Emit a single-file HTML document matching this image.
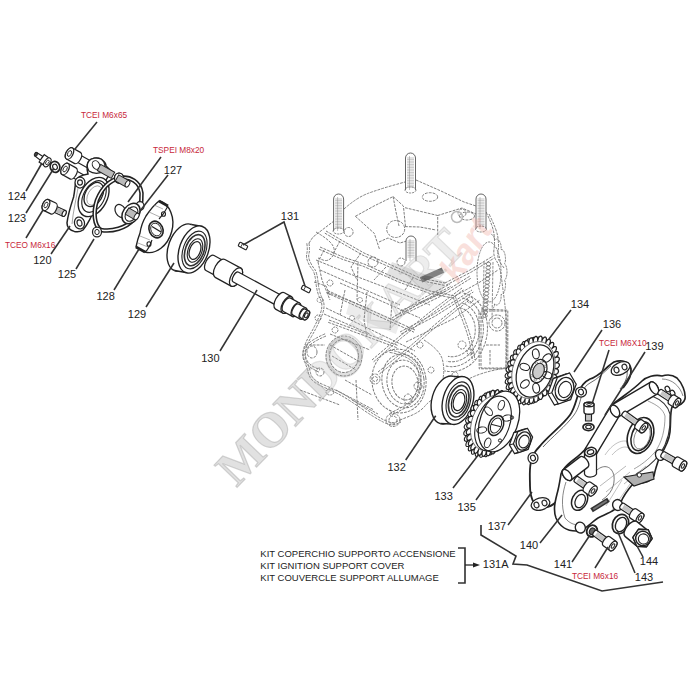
<!DOCTYPE html><html><head><meta charset="utf-8"><style>
html,body{margin:0;padding:0;background:#fff;width:700px;height:700px;overflow:hidden}
svg{display:block}
text{font-family:"Liberation Sans",sans-serif}
</style></head><body>
<svg width="700" height="700" viewBox="0 0 700 700">
<ellipse cx="344" cy="357" rx="16" ry="18" fill="none" stroke="#e0e0e0" stroke-width="5"/>
<path d="M350,300 L400,322 L396,334 L346,314 Z" fill="#ececec" stroke="none"/>
<path d="M392,262 L446,282 L440,296 L386,276 Z" fill="#e2e2e2" stroke="none"/>
<path d="M309,243 L313,237 L326,227 L334,221" fill="none" stroke="#777" stroke-width="0.95" stroke-dasharray="2.8 1.1" stroke-linejoin="round"/>
<path d="M344,209 Q357,197.4 368.5,193.2 Q380,189 392.5,185.5 L405,182" fill="none" stroke="#777" stroke-width="0.95" stroke-dasharray="2.8 1.1" stroke-linejoin="round"/>
<path d="M416,180 L441,191 L464,202 L476,206" fill="none" stroke="#777" stroke-width="0.95" stroke-dasharray="2.8 1.1" stroke-linejoin="round"/>
<path d="M486,212 Q493,226 494.0,234.0 Q495,242 494.0,249.0 Q493,256 496.5,261.0 Q500,266 501.5,278.0 Q503,290 504.5,301.5 Q506,313 506.5,326.5 Q507,340 506.5,354.0 L506,368" fill="none" stroke="#777" stroke-width="0.95" stroke-dasharray="2.8 1.1" stroke-linejoin="round"/>
<path d="M489,214 Q497,230 498.0,238.0 Q499,246 498.0,252.0 Q497,258 500.5,263.0 L504,268" fill="none" stroke="#777" stroke-width="0.95" stroke-dasharray="2.8 1.1" stroke-linejoin="round"/>
<path d="M506,368 Q480,372 465.0,381.0 Q450,390 440.0,395.0 Q430,400 425.0,406.0 Q420,412 410.0,416.0 L400,420" fill="none" stroke="#777" stroke-width="0.95" stroke-dasharray="2.8 1.1" stroke-linejoin="round"/>
<path d="M326,231 L343,241 L364,253 L400,269 L420,278 L445,283" fill="none" stroke="#777" stroke-width="0.95" stroke-dasharray="2.8 1.1" stroke-linejoin="round"/>
<path d="M324.8,233.1 L341.8,243.1 L362.9,255.2 L399.0,271.2 L419.3,280.3 L444.5,285.4" fill="none" stroke="#777" stroke-width="0.95" stroke-dasharray="2.8 1.1" stroke-linejoin="round"/>
<path d="M320,247 L343,257 L364,264 L400,280 L430,291 L455,296" fill="none" stroke="#777" stroke-width="0.95" stroke-dasharray="2.8 1.1" stroke-linejoin="round"/>
<path d="M319.0,249.2 L342.1,259.2 L363.1,266.2 L399.1,282.2 L429.3,293.3 L454.5,298.4" fill="none" stroke="#777" stroke-width="0.95" stroke-dasharray="2.8 1.1" stroke-linejoin="round"/>
<path d="M316,260 L350,274 L400,293 L430,305" fill="none" stroke="#777" stroke-width="0.95" stroke-dasharray="2.8 1.1" stroke-linejoin="round"/>
<path d="M445,283 L470,270 L493,256" fill="none" stroke="#777" stroke-width="0.95" stroke-dasharray="2.8 1.1" stroke-linejoin="round"/>
<path d="M446.1,285.1 L471.2,272.1 L494.2,258.1" fill="none" stroke="#777" stroke-width="0.95" stroke-dasharray="2.8 1.1" stroke-linejoin="round"/>
<path d="M455,296 L480,282 L498,270" fill="none" stroke="#777" stroke-width="0.95" stroke-dasharray="2.8 1.1" stroke-linejoin="round"/>
<path d="M355.4,216.3 L374,206 L393.1,196.6 L403.4,206 L405.5,226.6" fill="none" stroke="#777" stroke-width="0.95" stroke-dasharray="2.8 1.1" stroke-linejoin="round"/>
<path d="M393.1,196.6 L396,212 L399,226" fill="none" stroke="#777" stroke-width="0.95" stroke-dasharray="2.8 1.1" stroke-linejoin="round"/>
<path d="M405,207.7 L437.7,215.5 L437.7,235" fill="none" stroke="#777" stroke-width="0.95" stroke-dasharray="2.8 1.1" stroke-linejoin="round"/>
<path d="M355.4,216.3 L374.3,233.4 L379.4,249" fill="none" stroke="#777" stroke-width="0.95" stroke-dasharray="2.8 1.1" stroke-linejoin="round"/>
<path d="M405,226.6 L420,227 L436,230" fill="none" stroke="#777" stroke-width="0.95" stroke-dasharray="2.8 1.1" stroke-linejoin="round"/>
<path d="M379,242 L388,238 L400,243 L410,240" fill="none" stroke="#777" stroke-width="0.95" stroke-dasharray="2.8 1.1" stroke-linejoin="round"/>
<path d="M437.7,215.5 L462,208 L476,214" fill="none" stroke="#777" stroke-width="0.95" stroke-dasharray="2.8 1.1" stroke-linejoin="round"/>
<ellipse cx="395.7" cy="229" rx="9" ry="8.5" transform="rotate(0 395.7 229)" fill="none" stroke="#777" stroke-width="0.95" stroke-dasharray="2.8 1.1"/>
<ellipse cx="430" cy="197" rx="7.7" ry="4.3" transform="rotate(0 430 197)" fill="none" stroke="#777" stroke-width="0.95" stroke-dasharray="2.8 1.1"/>
<ellipse cx="467" cy="216" rx="7.5" ry="4" transform="rotate(0 467 216)" fill="none" stroke="#777" stroke-width="0.95" stroke-dasharray="2.8 1.1"/>
<ellipse cx="462" cy="213" rx="4" ry="4" transform="rotate(0 462 213)" fill="none" stroke="#777" stroke-width="0.95" stroke-dasharray="2.8 1.1"/>
<ellipse cx="348.6" cy="232" rx="4.5" ry="4.5" transform="rotate(0 348.6 232)" fill="none" stroke="#777" stroke-width="0.95" stroke-dasharray="2.8 1.1"/>
<ellipse cx="401" cy="262" rx="4" ry="4" transform="rotate(0 401 262)" fill="none" stroke="#777" stroke-width="0.95" stroke-dasharray="2.8 1.1"/>
<ellipse cx="373" cy="262" rx="5" ry="5" transform="rotate(0 373 262)" fill="none" stroke="#777" stroke-width="0.95" stroke-dasharray="2.8 1.1"/>
<path d="M340,241 L333,254" fill="none" stroke="#777" stroke-width="0.95" stroke-dasharray="2.8 1.1" stroke-linejoin="round"/>
<path d="M361,253 L351,267 L357,280" fill="none" stroke="#777" stroke-width="0.95" stroke-dasharray="2.8 1.1" stroke-linejoin="round"/>
<path d="M386,267 L374,280" fill="none" stroke="#777" stroke-width="0.95" stroke-dasharray="2.8 1.1" stroke-linejoin="round"/>
<path d="M413,278 L405,290" fill="none" stroke="#777" stroke-width="0.95" stroke-dasharray="2.8 1.1" stroke-linejoin="round"/>
<path d="M324,250 L318,262" fill="none" stroke="#777" stroke-width="0.95" stroke-dasharray="2.8 1.1" stroke-linejoin="round"/>
<path d="M309,243 Q310,250 309.0,253.5 Q308,257 310.0,261.5 Q312,266 314.5,269.0 Q317,272 318.0,282.0 Q319,292 322.5,299.0 Q326,306 321.5,316.5 Q317,327 312.0,335.5 Q307,344 305.5,350.0 Q304,356 306.5,361.0 Q309,366 310.5,373.0 Q312,380 324.0,385.0 Q336,390 343.0,394.0 Q350,398 363.0,407.0 Q376,416 384.0,420.0 Q392,424 396.0,422.0 L400,420" fill="none" stroke="#777" stroke-width="0.95" stroke-dasharray="2.8 1.1" stroke-linejoin="round"/>
<path d="M306.8,243.3 Q307.8,249.8 306.8,253.55 Q305.8,257.3 307.95000000000005,262.20000000000005 Q310.1,267.1 312.5,269.85 Q314.9,272.6 315.9,282.6 Q316.9,292.6 320.35,299.25 Q323.8,305.9 319.4,315.95 Q315.0,326.0 310.0,334.55 Q305.0,343.1 303.4,349.65 Q301.8,356.2 304.35,361.45 Q306.9,366.7 308.7,374.15 Q310.5,381.6 322.8,386.8 Q335.1,392.0 341.95000000000005,395.9 Q348.8,399.8 361.8,408.85 Q374.8,417.9 383.20000000000005,422.04999999999995 Q391.6,426.2 396.3,424.1 L401.0,422.0" fill="none" stroke="#777" stroke-width="0.95" stroke-dasharray="2.8 1.1" stroke-linejoin="round"/>
<path d="M318,262 L322,280 L330,300" fill="none" stroke="#777" stroke-width="0.95" stroke-dasharray="2.8 1.1" stroke-linejoin="round"/>
<path d="M316,232 Q330,240 333.0,246.0 Q336,252 332.0,257.0 Q328,262 323.0,260.0 L318,258" fill="none" stroke="#777" stroke-width="0.95" stroke-dasharray="2.8 1.1" stroke-linejoin="round"/>
<path d="M327.6,290.6 L415,330" fill="none" stroke="#777" stroke-width="0.95" stroke-dasharray="2.8 1.1" stroke-linejoin="round"/>
<path d="M326.6,292.8 L414.0,332.2" fill="none" stroke="#777" stroke-width="0.95" stroke-dasharray="2.8 1.1" stroke-linejoin="round"/>
<path d="M326,308 L415,351" fill="none" stroke="#777" stroke-width="0.95" stroke-dasharray="2.8 1.1" stroke-linejoin="round"/>
<path d="M329,320 L398,345.5" fill="none" stroke="#777" stroke-width="0.95" stroke-dasharray="2.8 1.1" stroke-linejoin="round"/>
<path d="M328.2,322.3 L397.2,347.8" fill="none" stroke="#777" stroke-width="0.95" stroke-dasharray="2.8 1.1" stroke-linejoin="round"/>
<path d="M340,283 L420,318" fill="none" stroke="#777" stroke-width="0.95" stroke-dasharray="2.8 1.1" stroke-linejoin="round"/>
<path d="M320,270 L400,305" fill="none" stroke="#777" stroke-width="0.95" stroke-dasharray="2.8 1.1" stroke-linejoin="round"/>
<path d="M367,292 L364,320 L367,337" fill="none" stroke="#777" stroke-width="0.95" stroke-dasharray="2.8 1.1" stroke-linejoin="round"/>
<path d="M392,302 L390,330" fill="none" stroke="#777" stroke-width="0.95" stroke-dasharray="2.8 1.1" stroke-linejoin="round"/>
<path d="M345,290 L340,315" fill="none" stroke="#777" stroke-width="0.95" stroke-dasharray="2.8 1.1" stroke-linejoin="round"/>
<ellipse cx="344" cy="356" rx="18" ry="20" transform="rotate(0 344 356)" fill="none" stroke="#777" stroke-width="0.9" stroke-dasharray="2.8 1.1"/>
<ellipse cx="344" cy="356" rx="14.5" ry="16.5" transform="rotate(0 344 356)" fill="none" stroke="#777" stroke-width="0.95" stroke-dasharray="2.8 1.1"/>
<path d="M326,336 Q312,342 308.0,347.0 Q304,352 306.0,358.0 Q308,364 314.0,367.0 L320,370" fill="none" stroke="#777" stroke-width="0.95" stroke-dasharray="2.8 1.1" stroke-linejoin="round"/>
<path d="M325.1,333.8 Q310.6,340.1 306.1,345.85 Q301.6,351.6 303.9,358.6 Q306.2,365.6 312.54999999999995,368.85 L318.9,372.1" fill="none" stroke="#777" stroke-width="0.95" stroke-dasharray="2.8 1.1" stroke-linejoin="round"/>
<ellipse cx="312" cy="352" rx="5" ry="6" transform="rotate(0 312 352)" fill="none" stroke="#777" stroke-width="0.95" stroke-dasharray="2.8 1.1"/>
<ellipse cx="320" cy="372" rx="4" ry="4" transform="rotate(0 320 372)" fill="none" stroke="#777" stroke-width="0.95" stroke-dasharray="2.8 1.1"/>
<path d="M330,345 L360,362" fill="none" stroke="#777" stroke-width="0.95" stroke-dasharray="2.8 1.1" stroke-linejoin="round"/>
<path d="M332,356 L356,370" fill="none" stroke="#777" stroke-width="0.95" stroke-dasharray="2.8 1.1" stroke-linejoin="round"/>
<path d="M327,292 L370,309" fill="none" stroke="#777" stroke-width="0.95" stroke-dasharray="2.8 1.1" stroke-linejoin="round"/>
<path d="M324,314 L370,334" fill="none" stroke="#777" stroke-width="0.95" stroke-dasharray="2.8 1.1" stroke-linejoin="round"/>
<path d="M330,334 L370,350" fill="none" stroke="#777" stroke-width="0.95" stroke-dasharray="2.8 1.1" stroke-linejoin="round"/>
<path d="M345,380 L372,395" fill="none" stroke="#777" stroke-width="0.95" stroke-dasharray="2.8 1.1" stroke-linejoin="round"/>
<path d="M358,263 L357,300" fill="none" stroke="#777" stroke-width="0.95" stroke-dasharray="2.8 1.1" stroke-linejoin="round"/>
<path d="M356,380 L358,420" fill="none" stroke="#777" stroke-width="0.95" stroke-dasharray="2.8 1.1" stroke-linejoin="round"/>
<path d="M300,390 L340,405" fill="none" stroke="#777" stroke-width="0.95" stroke-dasharray="2.8 1.1" stroke-linejoin="round"/>
<path d="M305,345 L325,345" fill="none" stroke="#777" stroke-width="0.95" stroke-dasharray="2.8 1.1" stroke-linejoin="round"/>
<path d="M314,282 L326,286 L330,296" fill="none" stroke="#777" stroke-width="0.95" stroke-dasharray="2.8 1.1" stroke-linejoin="round"/>
<ellipse cx="318" cy="318" rx="3" ry="3" transform="rotate(0 318 318)" fill="none" stroke="#777" stroke-width="0.95" stroke-dasharray="2 1"/>
<ellipse cx="330" cy="392" rx="4" ry="3" transform="rotate(0 330 392)" fill="none" stroke="#777" stroke-width="0.95" stroke-dasharray="2 1"/>
<path d="M0,-40 A33,40 0 0 1 0,40" fill="none" stroke="#7c7c7c" stroke-width="0.95" stroke-dasharray="2.8 1.1" transform="translate(454 332) rotate(14)"/>
<path d="M0,-35 A29,35 0 0 1 0,35" fill="none" stroke="#7c7c7c" stroke-width="0.95" stroke-dasharray="2.8 1.1" transform="translate(454 332) rotate(14)"/>
<path d="M0,-30 A25,30 0 0 1 0,30" fill="none" stroke="#7c7c7c" stroke-width="0.95" stroke-dasharray="2.8 1.1" transform="translate(454 332) rotate(14)"/>
<path d="M0,-25 A21,25 0 0 1 0,25" fill="none" stroke="#7c7c7c" stroke-width="0.95" stroke-dasharray="2.8 1.1" transform="translate(454 332) rotate(14)"/>
<path d="M372,360 L400,336 L430,312 L462,288" fill="none" stroke="#777" stroke-width="0.95" stroke-dasharray="2.8 1.1" stroke-linejoin="round"/>
<path d="M373.6,361.8 L401.5,337.8 L431.5,313.9 L463.4,289.9" fill="none" stroke="#777" stroke-width="0.95" stroke-dasharray="2.8 1.1" stroke-linejoin="round"/>
<path d="M378,372 L408,348 L438,322 L468,298" fill="none" stroke="#777" stroke-width="0.95" stroke-dasharray="2.8 1.1" stroke-linejoin="round"/>
<path d="M379.5,373.9 L409.5,349.8 L439.5,323.8 L469.5,299.9" fill="none" stroke="#777" stroke-width="0.95" stroke-dasharray="2.8 1.1" stroke-linejoin="round"/>
<path d="M392,318 L420,300 L450,284" fill="none" stroke="#777" stroke-width="0.95" stroke-dasharray="2.8 1.1" stroke-linejoin="round"/>
<path d="M393.3,320.0 L421.2,302.1 L451.1,286.1" fill="none" stroke="#777" stroke-width="0.95" stroke-dasharray="2.8 1.1" stroke-linejoin="round"/>
<ellipse cx="399" cy="381" rx="27" ry="32" transform="rotate(-8 399 381)" fill="none" stroke="#777" stroke-width="0.95" stroke-dasharray="2.8 1.1"/>
<ellipse cx="403" cy="381" rx="21" ry="27" transform="rotate(-8 403 381)" fill="none" stroke="#777" stroke-width="0.95" stroke-dasharray="2.8 1.1"/>
<ellipse cx="404" cy="382" rx="17" ry="22" transform="rotate(-8 404 382)" fill="none" stroke="#777" stroke-width="0.95" stroke-dasharray="2.8 1.1"/>
<ellipse cx="405" cy="383" rx="13" ry="17" transform="rotate(-8 405 383)" fill="none" stroke="#777" stroke-width="0.95" stroke-dasharray="2.8 1.1"/>
<path d="M390,350 Q422,356 421.0,378.0 Q420,400 405.0,408.0 L390,416" fill="none" stroke="#777" stroke-width="0.95" stroke-dasharray="2.8 1.1" stroke-linejoin="round"/>
<path d="M389.6,352.4 Q419.9,357.2 418.9,378.04999999999995 Q417.9,398.9 403.4,406.4 L388.9,413.9" fill="none" stroke="#777" stroke-width="0.95" stroke-dasharray="2.8 1.1" stroke-linejoin="round"/>
<ellipse cx="375" cy="379" rx="5" ry="5" transform="rotate(0 375 379)" fill="none" stroke="#777" stroke-width="0.9" stroke-dasharray="2.8 1.1"/>
<ellipse cx="375" cy="379" rx="2.5" ry="2.5" transform="rotate(0 375 379)" fill="none" stroke="#777" stroke-width="0.95" stroke-dasharray="2.8 1.1"/>
<path d="M336,390 L374,410" fill="none" stroke="#777" stroke-width="0.95" stroke-dasharray="2.8 1.1" stroke-linejoin="round"/>
<path d="M352,400 L378,414" fill="none" stroke="#777" stroke-width="0.95" stroke-dasharray="2.8 1.1" stroke-linejoin="round"/>
<ellipse cx="393" cy="420" rx="7" ry="6.5" transform="rotate(0 393 420)" fill="none" stroke="#777" stroke-width="0.95" stroke-dasharray="2.8 1.1"/>
<ellipse cx="393" cy="420" rx="4" ry="4" transform="rotate(0 393 420)" fill="none" stroke="#777" stroke-width="0.95" stroke-dasharray="2.8 1.1"/>
<ellipse cx="418" cy="386" rx="4" ry="4" transform="rotate(0 418 386)" fill="none" stroke="#777" stroke-width="0.95" stroke-dasharray="2.8 1.1"/>
<ellipse cx="408" cy="399" rx="4" ry="5" transform="rotate(0 408 399)" fill="none" stroke="#777" stroke-width="0.95" stroke-dasharray="2.8 1.1"/>
<path d="M395,316 L446,291 L470,276" fill="none" stroke="#777" stroke-width="0.95" stroke-dasharray="2.8 1.1" stroke-linejoin="round"/>
<path d="M396.1,318.2 L447.1,293.1 L471.3,278.0" fill="none" stroke="#777" stroke-width="0.95" stroke-dasharray="2.8 1.1" stroke-linejoin="round"/>
<path d="M400,332 L434,314 L472,290" fill="none" stroke="#777" stroke-width="0.95" stroke-dasharray="2.8 1.1" stroke-linejoin="round"/>
<path d="M401.1,334.1 L435.2,316.1 L473.3,292.0" fill="none" stroke="#777" stroke-width="0.95" stroke-dasharray="2.8 1.1" stroke-linejoin="round"/>
<path d="M406,342 L455,318 L480,300" fill="none" stroke="#777" stroke-width="0.95" stroke-dasharray="2.8 1.1" stroke-linejoin="round"/>
<path d="M455,296 Q470,330 472.5,345.0 L475,360" fill="none" stroke="#777" stroke-width="0.95" stroke-dasharray="2.8 1.1" stroke-linejoin="round"/>
<path d="M452.8,297.0 Q467.7,330.7 470.15,345.54999999999995 L472.6,360.4" fill="none" stroke="#777" stroke-width="0.95" stroke-dasharray="2.8 1.1" stroke-linejoin="round"/>
<path d="M400,311 L430,298 L446,291" fill="none" stroke="#777" stroke-width="0.95" stroke-dasharray="2.8 1.1" stroke-linejoin="round"/>
<path d="M424,340 Q440,350 442.5,360.0 Q445,370 442.5,381.0 L440,392" fill="none" stroke="#777" stroke-width="0.95" stroke-dasharray="2.8 1.1" stroke-linejoin="round"/>
<ellipse cx="488.5" cy="264.0" rx="2.3" ry="1.7" transform="rotate(0 488.5 264.0)" fill="none" stroke="#6e6e6e" stroke-width="0.8" stroke-dasharray="none"/>
<ellipse cx="488.25" cy="267.7" rx="2.3" ry="1.7" transform="rotate(0 488.25 267.7)" fill="none" stroke="#6e6e6e" stroke-width="0.8" stroke-dasharray="none"/>
<ellipse cx="488.0" cy="271.4" rx="2.3" ry="1.7" transform="rotate(0 488.0 271.4)" fill="none" stroke="#6e6e6e" stroke-width="0.8" stroke-dasharray="none"/>
<ellipse cx="487.75" cy="275.1" rx="2.3" ry="1.7" transform="rotate(0 487.75 275.1)" fill="none" stroke="#6e6e6e" stroke-width="0.8" stroke-dasharray="none"/>
<ellipse cx="487.5" cy="278.8" rx="2.3" ry="1.7" transform="rotate(0 487.5 278.8)" fill="none" stroke="#6e6e6e" stroke-width="0.8" stroke-dasharray="none"/>
<ellipse cx="487.25" cy="282.5" rx="2.3" ry="1.7" transform="rotate(0 487.25 282.5)" fill="none" stroke="#6e6e6e" stroke-width="0.8" stroke-dasharray="none"/>
<ellipse cx="487.0" cy="286.2" rx="2.3" ry="1.7" transform="rotate(0 487.0 286.2)" fill="none" stroke="#6e6e6e" stroke-width="0.8" stroke-dasharray="none"/>
<ellipse cx="486.75" cy="289.9" rx="2.3" ry="1.7" transform="rotate(0 486.75 289.9)" fill="none" stroke="#6e6e6e" stroke-width="0.8" stroke-dasharray="none"/>
<ellipse cx="486.5" cy="293.6" rx="2.3" ry="1.7" transform="rotate(0 486.5 293.6)" fill="none" stroke="#6e6e6e" stroke-width="0.8" stroke-dasharray="none"/>
<ellipse cx="486.25" cy="297.3" rx="2.3" ry="1.7" transform="rotate(0 486.25 297.3)" fill="none" stroke="#6e6e6e" stroke-width="0.8" stroke-dasharray="none"/>
<ellipse cx="486.0" cy="301.0" rx="2.3" ry="1.7" transform="rotate(0 486.0 301.0)" fill="none" stroke="#6e6e6e" stroke-width="0.8" stroke-dasharray="none"/>
<ellipse cx="485.75" cy="304.7" rx="2.3" ry="1.7" transform="rotate(0 485.75 304.7)" fill="none" stroke="#6e6e6e" stroke-width="0.8" stroke-dasharray="none"/>
<ellipse cx="485.5" cy="308.4" rx="2.3" ry="1.7" transform="rotate(0 485.5 308.4)" fill="none" stroke="#6e6e6e" stroke-width="0.8" stroke-dasharray="none"/>
<ellipse cx="485.25" cy="312.1" rx="2.3" ry="1.7" transform="rotate(0 485.25 312.1)" fill="none" stroke="#6e6e6e" stroke-width="0.8" stroke-dasharray="none"/>
<ellipse cx="485.0" cy="315.8" rx="2.3" ry="1.7" transform="rotate(0 485.0 315.8)" fill="none" stroke="#6e6e6e" stroke-width="0.8" stroke-dasharray="none"/>
<path d="M484,262 L483,320" fill="none" stroke="#888" stroke-width="0.95" stroke-dasharray="2.8 1.1" stroke-linejoin="round"/>
<path d="M493,262 L492,320" fill="none" stroke="#888" stroke-width="0.95" stroke-dasharray="2.8 1.1" stroke-linejoin="round"/>
<path d="M491.2,234.3 L491.7,234.5 L492.2,234.8 L492.7,235.2 L493.2,235.8 L493.6,236.5 L494.0,237.3 L494.4,238.4 L494.6,240.1 L495.2,239.7 L495.8,239.1 L496.4,239.0 L497.0,239.0 L497.5,239.2 L498.0,239.5 L498.5,239.9 L499.0,240.4 L499.4,241.1 L499.8,241.8 L500.2,242.6 L500.5,243.5 L500.8,244.5 L501.0,245.6 L501.1,246.8 L501.1,248.3 L501.1,249.6 L502.0,249.5 L502.6,249.8 L503.1,250.3 L503.6,250.9 L504.0,251.7 L504.3,252.5 L504.7,253.4 L504.9,254.3 L505.2,255.4 L505.3,256.4 L505.4,257.5 L505.5,258.7 L505.5,259.8 L505.4,261.0 L505.1,262.3 L504.6,263.6 L505.1,264.4 L505.7,265.2 L506.1,266.1 L506.4,267.1 L506.6,268.2 L506.8,269.2 L506.9,270.3 L507.0,271.4 L507.0,272.6 L506.9,273.7 L506.8,274.8 L506.6,275.8 L506.4,276.9 L506.1,277.9 L505.7,278.8 L505.1,279.6 L504.6,280.4 L505.1,281.7 L505.4,283.0 L505.5,284.2 L505.5,285.3 L505.4,286.5 L505.3,287.6 L505.2,288.6 L504.9,289.7 L504.7,290.6 L504.3,291.5 L504.0,292.3 L503.6,293.1 L503.1,293.7 L502.6,294.2 L502.0,294.5 L501.1,294.4 L501.1,295.7 L501.1,297.2 L501.0,298.4 L500.8,299.5 L500.5,300.5 L500.2,301.4 L499.8,302.2 L499.4,302.9 L499.0,303.6 L498.5,304.1 L498.0,304.5 L497.5,304.8 L497.0,305.0 L496.4,305.0 L495.8,304.9 L495.2,304.3 L494.6,303.9 L494.4,305.6 L494.0,306.7 L493.6,307.5 L493.2,308.2 L492.7,308.8 L492.2,309.2 L491.7,309.5 L491.2,309.7" fill="none" stroke="#777" stroke-width="0.95" stroke-dasharray="2.2 0.9" stroke-linejoin="round"/>
<ellipse cx="489" cy="272" rx="12" ry="30" transform="rotate(0 489 272)" fill="none" stroke="#777" stroke-width="0.95" stroke-dasharray="2.2 1"/>
<path d="M481,311 L506,311 L506,368 L481,368 L481,311" fill="none" stroke="#777" stroke-width="0.95" stroke-dasharray="2.8 1.1" stroke-linejoin="round"/>
<path d="M481.0,309.0 L507.8,310.2 L507.8,368.8 L479.2,368.8 L479.0,311.0" fill="none" stroke="#777" stroke-width="0.95" stroke-dasharray="2.8 1.1" stroke-linejoin="round"/>
<ellipse cx="497" cy="323" rx="8" ry="8" transform="rotate(0 497 323)" fill="none" stroke="#777" stroke-width="0.95" stroke-dasharray="2.8 1.1"/>
<ellipse cx="497" cy="323" rx="5" ry="5" transform="rotate(0 497 323)" fill="none" stroke="#777" stroke-width="0.95" stroke-dasharray="2.8 1.1"/>
<path d="M486,345 L500,345" fill="none" stroke="#777" stroke-width="0.95" stroke-dasharray="2.8 1.1" stroke-linejoin="round"/>
<path d="M490,350 L490,365" fill="none" stroke="#777" stroke-width="0.95" stroke-dasharray="2.8 1.1" stroke-linejoin="round"/>
<ellipse cx="330" cy="283" rx="3" ry="3" transform="rotate(0 330 283)" fill="none" stroke="#777" stroke-width="0.95" stroke-dasharray="2 1"/>
<ellipse cx="320" cy="300" rx="3" ry="2.5" transform="rotate(0 320 300)" fill="none" stroke="#777" stroke-width="0.95" stroke-dasharray="2 1"/>
<ellipse cx="352" cy="318" rx="2.5" ry="2.5" transform="rotate(0 352 318)" fill="none" stroke="#777" stroke-width="0.95" stroke-dasharray="2 1"/>
<ellipse cx="420" cy="345" rx="3" ry="3" transform="rotate(0 420 345)" fill="none" stroke="#777" stroke-width="0.95" stroke-dasharray="2 1"/>
<ellipse cx="470" cy="300" rx="3" ry="3" transform="rotate(0 470 300)" fill="none" stroke="#777" stroke-width="0.95" stroke-dasharray="2 1"/>
<ellipse cx="462" cy="345" rx="4" ry="4" transform="rotate(0 462 345)" fill="none" stroke="#777" stroke-width="0.95" stroke-dasharray="2 1"/>
<ellipse cx="431" cy="370" rx="3" ry="3" transform="rotate(0 431 370)" fill="none" stroke="#777" stroke-width="0.95" stroke-dasharray="2 1"/>
<ellipse cx="455" cy="375" rx="3" ry="3" transform="rotate(0 455 375)" fill="none" stroke="#777" stroke-width="0.95" stroke-dasharray="2 1"/>
<ellipse cx="335" cy="330" rx="3" ry="3" transform="rotate(0 335 330)" fill="none" stroke="#777" stroke-width="0.95" stroke-dasharray="2 1"/>
<ellipse cx="360" cy="300" rx="2.5" ry="2.5" transform="rotate(0 360 300)" fill="none" stroke="#777" stroke-width="0.95" stroke-dasharray="2 1"/>
<ellipse cx="470" cy="352" rx="3" ry="3" transform="rotate(0 470 352)" fill="none" stroke="#777" stroke-width="0.95" stroke-dasharray="2 1"/>
<path d="M405.5,190 L405.5,158.0 A5.0,5.0 0 0 1 415.5,158.0 L415.5,190" fill="#fff" stroke="#555" stroke-width="0.9"/>
<line x1="407.0" y1="158.0" x2="414.0" y2="158.0" stroke="#999" stroke-width="0.55"/>
<line x1="407.0" y1="159.6" x2="414.0" y2="159.6" stroke="#999" stroke-width="0.55"/>
<line x1="407.0" y1="161.2" x2="414.0" y2="161.2" stroke="#999" stroke-width="0.55"/>
<line x1="407.0" y1="162.8" x2="414.0" y2="162.8" stroke="#999" stroke-width="0.55"/>
<line x1="407.0" y1="164.4" x2="414.0" y2="164.4" stroke="#999" stroke-width="0.55"/>
<line x1="407.0" y1="166.0" x2="414.0" y2="166.0" stroke="#999" stroke-width="0.55"/>
<line x1="407.0" y1="167.6" x2="414.0" y2="167.6" stroke="#999" stroke-width="0.55"/>
<line x1="407.0" y1="169.2" x2="414.0" y2="169.2" stroke="#999" stroke-width="0.55"/>
<line x1="407.0" y1="170.8" x2="414.0" y2="170.8" stroke="#999" stroke-width="0.55"/>
<line x1="407.0" y1="172.4" x2="414.0" y2="172.4" stroke="#999" stroke-width="0.55"/>
<line x1="407.0" y1="174.0" x2="414.0" y2="174.0" stroke="#999" stroke-width="0.55"/>
<line x1="407.0" y1="175.6" x2="414.0" y2="175.6" stroke="#999" stroke-width="0.55"/>
<line x1="407.0" y1="177.2" x2="414.0" y2="177.2" stroke="#999" stroke-width="0.55"/>
<line x1="407.0" y1="178.8" x2="414.0" y2="178.8" stroke="#999" stroke-width="0.55"/>
<line x1="407.0" y1="180.4" x2="414.0" y2="180.4" stroke="#999" stroke-width="0.55"/>
<line x1="407.0" y1="182.0" x2="414.0" y2="182.0" stroke="#999" stroke-width="0.55"/>
<line x1="407.0" y1="183.6" x2="414.0" y2="183.6" stroke="#999" stroke-width="0.55"/>
<line x1="407.0" y1="185.2" x2="414.0" y2="185.2" stroke="#999" stroke-width="0.55"/>
<line x1="407.0" y1="186.8" x2="414.0" y2="186.8" stroke="#999" stroke-width="0.55"/>
<line x1="409.5" y1="156" x2="409.5" y2="190" stroke="#888" stroke-width="0.5"/>
<path d="M333.6,231 L333.6,199.0 A5.0,5.0 0 0 1 343.6,199.0 L343.6,231" fill="#fff" stroke="#555" stroke-width="0.9"/>
<line x1="335.1" y1="199.0" x2="342.1" y2="199.0" stroke="#999" stroke-width="0.55"/>
<line x1="335.1" y1="200.6" x2="342.1" y2="200.6" stroke="#999" stroke-width="0.55"/>
<line x1="335.1" y1="202.2" x2="342.1" y2="202.2" stroke="#999" stroke-width="0.55"/>
<line x1="335.1" y1="203.8" x2="342.1" y2="203.8" stroke="#999" stroke-width="0.55"/>
<line x1="335.1" y1="205.4" x2="342.1" y2="205.4" stroke="#999" stroke-width="0.55"/>
<line x1="335.1" y1="207.0" x2="342.1" y2="207.0" stroke="#999" stroke-width="0.55"/>
<line x1="335.1" y1="208.6" x2="342.1" y2="208.6" stroke="#999" stroke-width="0.55"/>
<line x1="335.1" y1="210.2" x2="342.1" y2="210.2" stroke="#999" stroke-width="0.55"/>
<line x1="335.1" y1="211.8" x2="342.1" y2="211.8" stroke="#999" stroke-width="0.55"/>
<line x1="335.1" y1="213.4" x2="342.1" y2="213.4" stroke="#999" stroke-width="0.55"/>
<line x1="335.1" y1="215.0" x2="342.1" y2="215.0" stroke="#999" stroke-width="0.55"/>
<line x1="335.1" y1="216.6" x2="342.1" y2="216.6" stroke="#999" stroke-width="0.55"/>
<line x1="335.1" y1="218.2" x2="342.1" y2="218.2" stroke="#999" stroke-width="0.55"/>
<line x1="335.1" y1="219.8" x2="342.1" y2="219.8" stroke="#999" stroke-width="0.55"/>
<line x1="335.1" y1="221.4" x2="342.1" y2="221.4" stroke="#999" stroke-width="0.55"/>
<line x1="335.1" y1="223.0" x2="342.1" y2="223.0" stroke="#999" stroke-width="0.55"/>
<line x1="335.1" y1="224.6" x2="342.1" y2="224.6" stroke="#999" stroke-width="0.55"/>
<line x1="335.1" y1="226.2" x2="342.1" y2="226.2" stroke="#999" stroke-width="0.55"/>
<line x1="335.1" y1="227.8" x2="342.1" y2="227.8" stroke="#999" stroke-width="0.55"/>
<line x1="337.6" y1="197" x2="337.6" y2="231" stroke="#888" stroke-width="0.5"/>
<path d="M476.0,229 L476.0,199.0 A5.0,5.0 0 0 1 486.0,199.0 L486.0,229" fill="#fff" stroke="#555" stroke-width="0.9"/>
<line x1="477.5" y1="199.0" x2="484.5" y2="199.0" stroke="#999" stroke-width="0.55"/>
<line x1="477.5" y1="200.6" x2="484.5" y2="200.6" stroke="#999" stroke-width="0.55"/>
<line x1="477.5" y1="202.2" x2="484.5" y2="202.2" stroke="#999" stroke-width="0.55"/>
<line x1="477.5" y1="203.8" x2="484.5" y2="203.8" stroke="#999" stroke-width="0.55"/>
<line x1="477.5" y1="205.4" x2="484.5" y2="205.4" stroke="#999" stroke-width="0.55"/>
<line x1="477.5" y1="207.0" x2="484.5" y2="207.0" stroke="#999" stroke-width="0.55"/>
<line x1="477.5" y1="208.6" x2="484.5" y2="208.6" stroke="#999" stroke-width="0.55"/>
<line x1="477.5" y1="210.2" x2="484.5" y2="210.2" stroke="#999" stroke-width="0.55"/>
<line x1="477.5" y1="211.8" x2="484.5" y2="211.8" stroke="#999" stroke-width="0.55"/>
<line x1="477.5" y1="213.4" x2="484.5" y2="213.4" stroke="#999" stroke-width="0.55"/>
<line x1="477.5" y1="215.0" x2="484.5" y2="215.0" stroke="#999" stroke-width="0.55"/>
<line x1="477.5" y1="216.6" x2="484.5" y2="216.6" stroke="#999" stroke-width="0.55"/>
<line x1="477.5" y1="218.2" x2="484.5" y2="218.2" stroke="#999" stroke-width="0.55"/>
<line x1="477.5" y1="219.8" x2="484.5" y2="219.8" stroke="#999" stroke-width="0.55"/>
<line x1="477.5" y1="221.4" x2="484.5" y2="221.4" stroke="#999" stroke-width="0.55"/>
<line x1="477.5" y1="223.0" x2="484.5" y2="223.0" stroke="#999" stroke-width="0.55"/>
<line x1="477.5" y1="224.6" x2="484.5" y2="224.6" stroke="#999" stroke-width="0.55"/>
<line x1="477.5" y1="226.2" x2="484.5" y2="226.2" stroke="#999" stroke-width="0.55"/>
<line x1="480" y1="197" x2="480" y2="229" stroke="#888" stroke-width="0.5"/>
<path d="M406.0,261 L406.0,241.0 A5.0,5.0 0 0 1 416.0,241.0 L416.0,261" fill="#fff" stroke="#555" stroke-width="0.9"/>
<line x1="407.5" y1="241.0" x2="414.5" y2="241.0" stroke="#999" stroke-width="0.55"/>
<line x1="407.5" y1="242.6" x2="414.5" y2="242.6" stroke="#999" stroke-width="0.55"/>
<line x1="407.5" y1="244.2" x2="414.5" y2="244.2" stroke="#999" stroke-width="0.55"/>
<line x1="407.5" y1="245.8" x2="414.5" y2="245.8" stroke="#999" stroke-width="0.55"/>
<line x1="407.5" y1="247.4" x2="414.5" y2="247.4" stroke="#999" stroke-width="0.55"/>
<line x1="407.5" y1="249.0" x2="414.5" y2="249.0" stroke="#999" stroke-width="0.55"/>
<line x1="407.5" y1="250.6" x2="414.5" y2="250.6" stroke="#999" stroke-width="0.55"/>
<line x1="407.5" y1="252.2" x2="414.5" y2="252.2" stroke="#999" stroke-width="0.55"/>
<line x1="407.5" y1="253.8" x2="414.5" y2="253.8" stroke="#999" stroke-width="0.55"/>
<line x1="407.5" y1="255.4" x2="414.5" y2="255.4" stroke="#999" stroke-width="0.55"/>
<line x1="407.5" y1="257.0" x2="414.5" y2="257.0" stroke="#999" stroke-width="0.55"/>
<line x1="410" y1="239" x2="410" y2="261" stroke="#888" stroke-width="0.5"/>
<ellipse cx="410.5" cy="190" rx="5.5" ry="3" transform="rotate(0 410.5 190)" fill="none" stroke="#777" stroke-width="0.95" stroke-dasharray="2 1"/>
<ellipse cx="338.6" cy="231" rx="5.5" ry="3" transform="rotate(0 338.6 231)" fill="none" stroke="#777" stroke-width="0.95" stroke-dasharray="2 1"/>
<ellipse cx="481" cy="229" rx="5.5" ry="3" transform="rotate(0 481 229)" fill="none" stroke="#777" stroke-width="0.95" stroke-dasharray="2 1"/>
<g transform="translate(432 275) rotate(-24)">
<rect x="-12" y="-3" width="24" height="6" fill="#555" opacity="0.85"/>
</g>
<defs><clipPath id="cin"><path d="M309,243 L334,221 L405,183 L476,206 L495,240 L507,340 L506,368 L400,420 L312,380 L304,356 L317,327 L319,292 L309,260 Z"/></clipPath><clipPath id="cout"><path clip-rule="evenodd" d="M0,0 L700,0 L700,700 L0,700 Z M309,243 L334,221 L405,183 L476,206 L495,240 L507,340 L506,368 L400,420 L312,380 L304,356 L317,327 L319,292 L309,260 Z"/></clipPath></defs>
<g clip-path="url(#cout)"><text x="236.4" y="488" style="font-family:Liberation Serif;font-size:49px;font-weight:bold" fill="#b8b8b8" fill-opacity="0.42" stroke="#a0a0a0" stroke-opacity="0.42" stroke-width="1.2" transform="rotate(-46 236.4 488)">MONDOKART</text></g>
<g clip-path="url(#cin)"><text x="236.4" y="488" style="font-family:Liberation Serif;font-size:49px;font-weight:bold" fill="#b8b8b8" fill-opacity="0.26" stroke="#a0a0a0" stroke-opacity="0.26" stroke-width="1.2" transform="rotate(-46 236.4 488)">MONDOKART</text></g>
<text x="0" y="0" style="font-family:Liberation Sans;font-weight:bold;font-style:italic;font-size:36px" fill="#eea59a" fill-opacity="0.34" transform="translate(458 284) rotate(-57)">kart</text>
<circle cx="457" cy="217" r="5.5" fill="none" stroke="#bbb" stroke-width="1.5"/>
<g transform="translate(65.1 169) rotate(29)">
<path d="M9,-3.8 L26,-3.8 A2.09,3.8 0 0 1 26,3.8 L9,3.8" fill="#fff" stroke="#222" stroke-width="1.12"/>
<path d="M0,-6.3 L9,-6.3 A3.4650000000000003,6.3 0 0 1 9,6.3 L0,6.3 A3.4650000000000003,6.3 0 0 1 0,-6.3" fill="#fff" stroke="#222" stroke-width="1.25"/>
<ellipse cx="0" cy="0" rx="3.4650000000000003" ry="6.3" fill="#fff" stroke="#222" stroke-width="1.25"/>
<ellipse cx="0" cy="0" rx="1.7325000000000002" ry="3.15" fill="none" stroke="#222" stroke-width="0.88"/>
</g>
<g transform="translate(69.5 153.5) rotate(29)">
<path d="M9,-3.8 L27,-3.8 A2.09,3.8 0 0 1 27,3.8 L9,3.8" fill="#fff" stroke="#222" stroke-width="1.12"/>
<path d="M0,-6.3 L9,-6.3 A3.4650000000000003,6.3 0 0 1 9,6.3 L0,6.3 A3.4650000000000003,6.3 0 0 1 0,-6.3" fill="#fff" stroke="#222" stroke-width="1.25"/>
<ellipse cx="0" cy="0" rx="3.4650000000000003" ry="6.3" fill="#fff" stroke="#222" stroke-width="1.25"/>
<ellipse cx="0" cy="0" rx="1.7325000000000002" ry="3.15" fill="none" stroke="#222" stroke-width="0.88"/>
</g>
<path d="M88.6,161.4 C91,158 97,157 101.4,159.3 C104,161 106,163 106,166 L112,172 C104,180 100,190 96,205 C92,216 88,224 83,230 C80,232 77,232 74.3,231.4 C70,230 67,227 67,222.9 C68,214 71,205 73.6,197 C75,190 75,185 76,181 C77,177 82,175 88,174 C87,170 86,165 88.6,161.4 Z" fill="#fff" stroke="#222" stroke-width="1.50" />
<path d="M78,188 C76,200 73,212 72,224" fill="none" stroke="#666" stroke-width="0.6"/>
<ellipse cx="80" cy="182.5" rx="5" ry="5.5" transform="rotate(0 80 182.5)" fill="#fff" stroke="#222" stroke-width="1.25" />
<ellipse cx="80" cy="182.5" rx="2.4" ry="2.6" transform="rotate(0 80 182.5)" fill="none" stroke="#222" stroke-width="1.12" />
<ellipse cx="79.5" cy="223" rx="5" ry="6" transform="rotate(-15 79.5 223)" fill="#fff" stroke="#222" stroke-width="1.25" />
<ellipse cx="79.5" cy="223" rx="2.4" ry="3.2" transform="rotate(-15 79.5 223)" fill="none" stroke="#222" stroke-width="1.12" />
<ellipse cx="93.6" cy="197" rx="21" ry="13.5" transform="rotate(-62 93.6 197)" fill="#fff" stroke="#222" stroke-width="1.38" />
<ellipse cx="94" cy="196.5" rx="17" ry="10.5" transform="rotate(-62 94 196.5)" fill="none" stroke="#222" stroke-width="1.12" />
<ellipse cx="93.8" cy="194.5" rx="13" ry="8.5" transform="rotate(-60 93.8 194.5)" fill="none" stroke="#222" stroke-width="1.38" />
<ellipse cx="94.5" cy="195.5" rx="10.5" ry="6.5" transform="rotate(-60 94.5 195.5)" fill="none" stroke="#777" stroke-width="0.6" />
<path d="M88.6,161.4 C91,158 97,157 101.4,159.3 C105,162 106,167 104,171 C100,174 93,174 89,171 C87,168 87,164 88.6,161.4 Z" fill="#fff" stroke="#222" stroke-width="1.25" />
<ellipse cx="96" cy="165" rx="3.5" ry="4.5" transform="rotate(-30 96 165)" fill="none" stroke="#222" stroke-width="1.00" />
<path d="M97,200 C102,188 110,180 120,178 C130,176 140,182 141.5,193 C142,202 140,212 133,220 C126,228 112,232 101,230 C94,226 93,212 97,200 Z" fill="none" stroke="#222" stroke-width="4.50" stroke-linejoin="round" stroke-linecap="round"/>
<path d="M97,200 C102,188 110,180 120,178 C130,176 140,182 141.5,193 C142,202 140,212 133,220 C126,228 112,232 101,230 C94,226 93,212 97,200 Z" fill="none" stroke="#fff" stroke-width="1.4" stroke-linejoin="round" stroke-linecap="round"/>
<ellipse cx="97" cy="232" rx="4.5" ry="4.95" transform="rotate(0 97 232)" fill="#fff" stroke="#222" stroke-width="1.25" />
<ellipse cx="140" cy="206" rx="4" ry="4.4" transform="rotate(0 140 206)" fill="#fff" stroke="#222" stroke-width="1.25" />
<ellipse cx="119" cy="178" rx="4.5" ry="4.95" transform="rotate(0 119 178)" fill="#fff" stroke="#222" stroke-width="1.25" />
<ellipse cx="97" cy="232" rx="2.2" ry="2.6" transform="rotate(0 97 232)" fill="none" stroke="#222" stroke-width="1.00" />
<g transform="translate(99 167.5) rotate(29)">
<rect x="0" y="-3.5" width="16" height="7" fill="#bbb" stroke="#222" stroke-width="1.00"/>
</g>
<ellipse cx="119" cy="178" rx="4.5" ry="5" transform="rotate(0 119 178)" fill="#fff" stroke="#222" stroke-width="1.25" />
<g transform="translate(117 178) rotate(29)">
<rect x="0" y="-3.5" width="12" height="7" fill="#bbb" stroke="#222" stroke-width="1.00"/>
<ellipse cx="12" cy="0" rx="2" ry="3.5" fill="#fff" stroke="#222" stroke-width="1.00"/>
</g>
<ellipse cx="120.5" cy="211" rx="5" ry="7" transform="rotate(-30 120.5 211)" fill="#fff" stroke="#222" stroke-width="1.25" />
<ellipse cx="131" cy="213.5" rx="11" ry="8" transform="rotate(-55 131 213.5)" fill="#fff" stroke="#222" stroke-width="1.50" />
<ellipse cx="131.5" cy="214" rx="8" ry="5.5" transform="rotate(-55 131.5 214)" fill="none" stroke="#222" stroke-width="1.12" />
<g transform="translate(127 211) rotate(30)">
<rect x="0" y="-3.6" width="11" height="7.2" fill="#bbb" stroke="#222" stroke-width="1.00"/>
<ellipse cx="11" cy="0" rx="2" ry="3.6" fill="#fff" stroke="#222" stroke-width="1.00"/>
</g>
<g transform="translate(35.9 154.3) rotate(35)">
<path d="M0,-2 L7,-2.2 L7,2.2 L0,2 Z" fill="#fff" stroke="#222" stroke-width="1.12"/>
<ellipse cx="0" cy="0" rx="1.4" ry="2" fill="#444" stroke="#222" stroke-width="1.00"/>
<path d="M7,-4.5 L14,-4.5 L14,4.5 L7,4.5 Z" fill="#fff" stroke="#222" stroke-width="1.12"/>
<ellipse cx="14" cy="0" rx="2.8" ry="5" fill="#fff" stroke="#222" stroke-width="1.12"/>
<ellipse cx="14" cy="0" rx="1.4" ry="2.5" fill="none" stroke="#222" stroke-width="0.88"/>
</g>
<ellipse cx="55" cy="166.9" rx="4.8" ry="5.5" transform="rotate(-20 55 166.9)" fill="#fff" stroke="#222" stroke-width="1.75" />
<ellipse cx="55" cy="166.9" rx="2.3" ry="2.8" transform="rotate(-20 55 166.9)" fill="none" stroke="#222" stroke-width="1.12" />
<g transform="translate(46 205) rotate(25)">
<path d="M8,-3.2 L20,-3.2 A1.7600000000000002,3.2 0 0 1 20,3.2 L8,3.2" fill="#fff" stroke="#222" stroke-width="1.12"/>
<rect x="11.0" y="-2.4000000000000004" width="8.399999999999999" height="4.800000000000001" fill="#bbb" stroke="none"/>
<ellipse cx="20" cy="0" rx="1.7600000000000002" ry="3.2" fill="#fff" stroke="#222" stroke-width="1.12"/>
<path d="M0,-6 L8,-6 A3.3000000000000003,6 0 0 1 8,6 L0,6 A3.3000000000000003,6 0 0 1 0,-6" fill="#fff" stroke="#222" stroke-width="1.25"/>
<ellipse cx="0" cy="0" rx="3.3000000000000003" ry="6" fill="#fff" stroke="#222" stroke-width="1.25"/>
<ellipse cx="0" cy="0" rx="1.6500000000000001" ry="3.0" fill="none" stroke="#222" stroke-width="0.88"/>
</g>
<path d="M159,201 A26,20 -74 0 1 145,252 L136,247 C137,242 138,238 140,233 C141,226 143,221 146,216 C150,210 154,205 159,201 Z" fill="#fff" stroke="#222" stroke-width="1.38" />
<path d="M168,206 C165,212 162,216 159,219 M152,240 C150,246 148,250 145,252" fill="none" stroke="#222" stroke-width="1.12" />
<path d="M159,201 L168,206" fill="none" stroke="#222" stroke-width="2.75" />
<path d="M136,247 L145,252" fill="none" stroke="#222" stroke-width="2.75" />
<path d="M154,205 L163,209" fill="none" stroke="#777" stroke-width="0.6" />
<path d="M149,212 L160,217" fill="none" stroke="#777" stroke-width="0.6" />
<path d="M140,236 L150,240" fill="none" stroke="#777" stroke-width="0.6" />
<path d="M138,243 L148,247" fill="none" stroke="#777" stroke-width="0.6" />
<ellipse cx="156" cy="229.5" rx="6.8" ry="8.6" transform="rotate(-25 156 229.5)" fill="#fff" stroke="#222" stroke-width="1.62" />
<ellipse cx="156" cy="229.5" rx="5" ry="6.6" transform="rotate(-25 156 229.5)" fill="none" stroke="#222" stroke-width="0.88" />
<path d="M152,226.5 L161,232" fill="none" stroke="#222" stroke-width="1.25" />
<ellipse cx="163.5" cy="214" rx="2" ry="2.3" transform="rotate(0 163.5 214)" fill="none" stroke="#222" stroke-width="1.12" />
<ellipse cx="149" cy="244" rx="2" ry="2.3" transform="rotate(0 149 244)" fill="none" stroke="#222" stroke-width="1.12" />
<ellipse cx="183" cy="247.5" rx="24.5" ry="14.5" transform="rotate(-70 183 247.5)" fill="#fff" stroke="#222" stroke-width="1.38" />
<path d="M191.4,224.5 L202.4,226.5 L185.6,272.5 L174.6,270.5 Z" fill="#fff" stroke="none" stroke-width="0" />
<path d="M191.3794935114789,224.47753079074525 L202.3794935114789,226.47753079074525" fill="none" stroke="#222" stroke-width="1.38" />
<path d="M174.6205064885211,270.5224692092548 L185.6205064885211,272.5224692092548" fill="none" stroke="#222" stroke-width="1.38" />
<ellipse cx="194" cy="249.5" rx="24.5" ry="14.5" transform="rotate(-70 194 249.5)" fill="#fff" stroke="#222" stroke-width="1.38" />
<ellipse cx="194.5" cy="250.0" rx="19.6" ry="11.31" transform="rotate(-70 194.5 250.0)" fill="none" stroke="#222" stroke-width="1.12" />
<ellipse cx="194.7" cy="250.2" rx="16.17" ry="9.28" transform="rotate(-70 194.7 250.2)" fill="none" stroke="#333" stroke-width="1.62" />
<ellipse cx="195" cy="250.5" rx="12.25" ry="6.96" transform="rotate(-70 195 250.5)" fill="none" stroke="#222" stroke-width="1.12" />
<ellipse cx="195" cy="250.5" rx="9.31" ry="5.365" transform="rotate(-70 195 250.5)" fill="none" stroke="#222" stroke-width="1.25" />
<g transform="translate(210 263) rotate(28.5)">
<path d="M0,-8.5 L11.4,-8.5 A4.25,8.5 0 0 1 11.4,8.5 L0,8.5 A4.25,8.5 0 0 1 0,-8.5 Z" fill="#fff" stroke="#222" stroke-width="1.25"/>
<ellipse cx="11.4" cy="0" rx="4.25" ry="8.5" fill="#fff" stroke="#222" stroke-width="1.25"/>
<path d="M11.4,-10.2 L29.6,-10.2 A5.1,10.2 0 0 1 29.6,10.2 L11.4,10.2 A5.1,10.2 0 0 1 11.4,-10.2 Z" fill="#fff" stroke="#222" stroke-width="1.25"/>
<ellipse cx="29.6" cy="0" rx="5.1" ry="10.2" fill="#fff" stroke="#222" stroke-width="1.25"/>
<path d="M29.6,-5.6 L79.6,-5.6 A2.8,5.6 0 0 1 79.6,5.6 L29.6,5.6 A2.8,5.6 0 0 1 29.6,-5.6 Z" fill="#fff" stroke="#222" stroke-width="1.25"/>
<ellipse cx="79.6" cy="0" rx="2.8" ry="5.6" fill="#fff" stroke="#222" stroke-width="1.25"/>
<path d="M79.6,-9.3 L87.6,-9.3 A4.65,9.3 0 0 1 87.6,9.3 L79.6,9.3 A4.65,9.3 0 0 1 79.6,-9.3 Z" fill="#fff" stroke="#222" stroke-width="1.25"/>
<ellipse cx="87.6" cy="0" rx="4.65" ry="9.3" fill="#fff" stroke="#222" stroke-width="1.25"/>
<path d="M87.6,-7.6 L97.8,-7.6 A3.8,7.6 0 0 1 97.8,7.6 L87.6,7.6 A3.8,7.6 0 0 1 87.6,-7.6 Z" fill="#fff" stroke="#222" stroke-width="1.25"/>
<ellipse cx="97.8" cy="0" rx="3.8" ry="7.6" fill="#fff" stroke="#222" stroke-width="1.25"/>
<path d="M97.8,-6.2 L105.8,-6.2 A3.1,6.2 0 0 1 105.8,6.2 L97.8,6.2 A3.1,6.2 0 0 1 97.8,-6.2 Z" fill="#fff" stroke="#222" stroke-width="1.25"/>
<ellipse cx="105.8" cy="0" rx="3.1" ry="6.2" fill="#fff" stroke="#222" stroke-width="1.25"/>
<path d="M105.8,-5 L109.6,-5 A2.5,5 0 0 1 109.6,5 L105.8,5 A2.5,5 0 0 1 105.8,-5 Z" fill="#fff" stroke="#222" stroke-width="1.25"/>
<ellipse cx="109.6" cy="0" rx="2.5" ry="5" fill="#fff" stroke="#222" stroke-width="1.25"/>
<ellipse cx="109.6" cy="0" rx="1.5" ry="2.6" fill="none" stroke="#222" stroke-width="1.12"/>
</g>
<g transform="translate(243 246) rotate(28)">
<rect x="-4.5" y="-2.2" width="9" height="4.4" rx="1" fill="#fff" stroke="#222" stroke-width="1.12"/>
<line x1="-1.5" y1="-2.2" x2="-1.5" y2="2.2" stroke="#222" stroke-width="0.75"/>
</g>
<g transform="translate(306 289) rotate(28)">
<rect x="-4.5" y="-2.2" width="9" height="4.4" rx="1" fill="#fff" stroke="#222" stroke-width="1.12"/>
<line x1="-1.5" y1="-2.2" x2="-1.5" y2="2.2" stroke="#222" stroke-width="0.75"/>
</g>
<ellipse cx="447" cy="400.0" rx="24.5" ry="15" transform="rotate(-74 447 400.0)" fill="#fff" stroke="#222" stroke-width="1.38" />
<path d="M453.8,376.4 L464.8,376.9 L451.2,424.1 L440.2,423.6 Z" fill="#fff" stroke="none" stroke-width="0" />
<path d="M453.7531152175165,376.4490884495112 L464.7531152175165,376.9490884495112" fill="none" stroke="#222" stroke-width="1.38" />
<path d="M440.2468847824835,423.5509115504888 L451.2468847824835,424.0509115504888" fill="none" stroke="#222" stroke-width="1.38" />
<ellipse cx="458" cy="400.5" rx="24.5" ry="15" transform="rotate(-74 458 400.5)" fill="#fff" stroke="#222" stroke-width="1.38" />
<ellipse cx="458.5" cy="401.0" rx="19.6" ry="11.700000000000001" transform="rotate(-74 458.5 401.0)" fill="none" stroke="#222" stroke-width="1.12" />
<ellipse cx="458.7" cy="401.2" rx="16.17" ry="9.6" transform="rotate(-74 458.7 401.2)" fill="none" stroke="#333" stroke-width="1.62" />
<ellipse cx="459" cy="401.5" rx="12.25" ry="7.199999999999999" transform="rotate(-74 459 401.5)" fill="none" stroke="#222" stroke-width="1.12" />
<ellipse cx="459" cy="401.5" rx="9.31" ry="5.55" transform="rotate(-74 459 401.5)" fill="none" stroke="#222" stroke-width="1.25" />
<path d="M543.0,338.1 L543.3,338.3 L543.6,338.7 L543.8,339.2 L543.9,339.9 L543.9,341.0 L543.2,343.6 L544.6,341.3 L545.3,340.7 L545.9,340.3 L546.4,340.2 L546.9,340.2 L547.2,340.4 L547.5,340.7 L547.7,341.1 L547.9,341.7 L547.9,342.5 L547.7,343.5 L546.6,346.0 L548.3,344.1 L549.0,343.6 L549.6,343.4 L550.1,343.4 L550.6,343.6 L550.9,343.8 L551.1,344.2 L551.2,344.7 L551.2,345.4 L551.1,346.2 L550.8,347.2 L549.4,349.5 L551.3,347.9 L552.1,347.6 L552.7,347.6 L553.1,347.7 L553.5,347.9 L553.7,348.3 L553.9,348.8 L553.9,349.3 L553.9,350.0 L553.6,350.8 L553.2,351.8 L551.5,353.7 L553.5,352.6 L554.3,352.5 L554.8,352.6 L555.3,352.9 L555.6,353.2 L555.7,353.7 L555.8,354.2 L555.8,354.8 L555.6,355.4 L555.3,356.2 L554.7,357.1 L552.8,358.6 L554.8,358.0 L555.6,358.1 L556.1,358.4 L556.5,358.8 L556.7,359.2 L556.8,359.7 L556.8,360.2 L556.6,360.8 L556.4,361.5 L556.0,362.2 L555.3,362.9 L553.3,364.0 L555.3,363.9 L556.0,364.2 L556.4,364.6 L556.7,365.1 L556.8,365.6 L556.9,366.2 L556.8,366.7 L556.5,367.3 L556.2,367.9 L555.7,368.5 L554.9,369.0 L552.9,369.7 L554.8,370.1 L555.4,370.6 L555.7,371.1 L555.9,371.7 L556.0,372.2 L555.9,372.8 L555.7,373.4 L555.4,373.9 L555.0,374.4 L554.5,374.9 L553.7,375.3 L551.7,375.4 L553.4,376.3 L553.9,377.0 L554.1,377.6 L554.2,378.2 L554.2,378.8 L554.0,379.4 L553.8,379.9 L553.4,380.4 L553.0,380.8 L552.4,381.1 L551.6,381.3 L549.7,380.9 L551.1,382.3 L551.5,383.1 L551.6,383.8 L551.6,384.5 L551.5,385.1 L551.2,385.6 L550.9,386.1 L550.5,386.5 L550.0,386.8 L549.4,387.0 L548.6,387.0 L547.0,386.1 L548.1,387.9 L548.3,388.8 L548.3,389.6 L548.2,390.3 L548.0,390.8 L547.7,391.3 L547.3,391.7 L546.9,392.0 L546.4,392.2 L545.8,392.2 L545.1,392.0 L543.6,390.7 L544.4,392.8 L544.4,393.8 L544.3,394.6 L544.1,395.3 L543.8,395.8 L543.5,396.2 L543.1,396.6 L542.6,396.7 L542.1,396.8 L541.6,396.7 L540.9,396.3 L539.8,394.5 L540.2,396.9 L540.1,397.9 L539.8,398.7 L539.5,399.3 L539.2,399.8 L538.8,400.2 L538.4,400.4 L537.9,400.5 L537.5,400.4 L536.9,400.1 L536.4,399.6 L535.6,397.4 L535.6,400.0 L535.3,401.0 L535.0,401.8 L534.6,402.3 L534.3,402.7 L533.8,403.0 L533.4,403.1 L533.0,403.1 L532.5,402.9 L532.1,402.4 L531.7,401.7 L531.3,399.3 L530.9,402.0 L530.5,403.0 L530.0,403.6 L529.6,404.1 L529.2,404.4 L528.8,404.6 L528.3,404.6 L527.9,404.4 L527.6,404.1 L527.2,403.6 L526.9,402.7 L526.9,400.2 L526.1,402.8 L525.6,403.7 L525.1,404.3 L524.6,404.6 L524.2,404.8 L523.8,404.9 L523.4,404.8 L523.0,404.5 L522.7,404.1 L522.5,403.4 L522.3,402.5 L522.7,399.9 L521.6,402.3 L521.0,403.1 L520.4,403.6 L519.9,403.9 L519.4,404.0 L519.0,403.9 L518.7,403.7 L518.4,403.3 L518.2,402.8 L518.1,402.1 L518.1,401.0 L518.8,398.4 L517.4,400.7 L516.7,401.3 L516.1,401.7 L515.6,401.8 L515.1,401.8 L514.8,401.6 L514.5,401.3 L514.3,400.9 L514.1,400.3 L514.1,399.5 L514.3,398.5 L515.4,396.0 L513.7,397.9 L513.0,398.4 L512.4,398.6 L511.9,398.6 L511.4,398.4 L511.1,398.2 L510.9,397.8 L510.8,397.3 L510.8,396.6 L510.9,395.8 L511.2,394.8 L512.6,392.5 L510.7,394.1 L509.9,394.4 L509.3,394.4 L508.9,394.3 L508.5,394.1 L508.3,393.7 L508.1,393.2 L508.1,392.7 L508.1,392.0 L508.4,391.2 L508.8,390.2 L510.5,388.3 L508.5,389.4 L507.7,389.5 L507.2,389.4 L506.7,389.1 L506.4,388.8 L506.3,388.3 L506.2,387.8 L506.2,387.2 L506.4,386.6 L506.7,385.8 L507.3,384.9 L509.2,383.4 L507.2,384.0 L506.4,383.9 L505.9,383.6 L505.5,383.2 L505.3,382.8 L505.2,382.3 L505.2,381.8 L505.4,381.2 L505.6,380.5 L506.0,379.8 L506.7,379.1 L508.7,378.0 L506.7,378.1 L506.0,377.8 L505.6,377.4 L505.3,376.9 L505.2,376.4 L505.1,375.8 L505.2,375.3 L505.5,374.7 L505.8,374.1 L506.3,373.5 L507.1,373.0 L509.1,372.3 L507.2,371.9 L506.6,371.4 L506.3,370.9 L506.1,370.3 L506.0,369.8 L506.1,369.2 L506.3,368.6 L506.6,368.1 L507.0,367.6 L507.5,367.1 L508.3,366.7 L510.3,366.6 L508.6,365.7 L508.1,365.0 L507.9,364.4 L507.8,363.8 L507.8,363.2 L508.0,362.6 L508.2,362.1 L508.6,361.6 L509.0,361.2 L509.6,360.9 L510.4,360.7 L512.3,361.1 L510.9,359.7 L510.5,358.9 L510.4,358.2 L510.4,357.5 L510.5,356.9 L510.8,356.4 L511.1,355.9 L511.5,355.5 L512.0,355.2 L512.6,355.0 L513.4,355.0 L515.0,355.9 L513.9,354.1 L513.7,353.2 L513.7,352.4 L513.8,351.7 L514.0,351.2 L514.3,350.7 L514.7,350.3 L515.1,350.0 L515.6,349.8 L516.2,349.8 L516.9,350.0 L518.4,351.3 L517.6,349.2 L517.6,348.2 L517.7,347.4 L517.9,346.7 L518.2,346.2 L518.5,345.8 L518.9,345.4 L519.4,345.3 L519.9,345.2 L520.4,345.3 L521.1,345.7 L522.2,347.5 L521.8,345.1 L521.9,344.1 L522.2,343.3 L522.5,342.7 L522.8,342.2 L523.2,341.8 L523.6,341.6 L524.1,341.5 L524.5,341.6 L525.1,341.9 L525.6,342.4 L526.4,344.6 L526.4,342.0 L526.7,341.0 L527.0,340.2 L527.4,339.7 L527.7,339.3 L528.2,339.0 L528.6,338.9 L529.0,338.9 L529.5,339.1 L529.9,339.6 L530.3,340.3 L530.7,342.7 L531.1,340.0 L531.5,339.0 L532.0,338.4 L532.4,337.9 L532.8,337.6 L533.2,337.4 L533.7,337.4 L534.1,337.6 L534.4,337.9 L534.8,338.4 L535.1,339.3 L535.1,341.8 L535.9,339.2 L536.4,338.3 L536.9,337.7 L537.4,337.4 L537.8,337.2 L538.2,337.1 L538.6,337.2 L539.0,337.5 L539.3,337.9 L539.5,338.6 L539.7,339.5 L539.3,342.1 L540.4,339.7 L541.0,338.9 L541.6,338.4 L542.1,338.1 L542.6,338.0Z" fill="#fff" stroke="#222" stroke-width="1.12" stroke-linejoin="round"/>
<path d="M545.5,337.1 L545.8,337.3 L546.1,337.7 L546.3,338.2 L546.4,338.9 L546.4,340.0 L545.7,342.6 L547.1,340.3 L547.8,339.7 L548.4,339.3 L548.9,339.2 L549.4,339.2 L549.7,339.4 L550.0,339.7 L550.2,340.1 L550.4,340.7 L550.4,341.5 L550.2,342.5 L549.1,345.0 L550.8,343.1 L551.5,342.6 L552.1,342.4 L552.6,342.4 L553.1,342.6 L553.4,342.8 L553.6,343.2 L553.7,343.7 L553.7,344.4 L553.6,345.2 L553.3,346.2 L551.9,348.5 L553.8,346.9 L554.6,346.6 L555.2,346.6 L555.6,346.7 L556.0,346.9 L556.2,347.3 L556.4,347.8 L556.4,348.3 L556.4,349.0 L556.1,349.8 L555.7,350.8 L554.0,352.7 L556.0,351.6 L556.8,351.5 L557.3,351.6 L557.8,351.9 L558.1,352.2 L558.2,352.7 L558.3,353.2 L558.3,353.8 L558.1,354.4 L557.8,355.2 L557.2,356.1 L555.3,357.6 L557.3,357.0 L558.1,357.1 L558.6,357.4 L559.0,357.8 L559.2,358.2 L559.3,358.7 L559.3,359.2 L559.1,359.8 L558.9,360.5 L558.5,361.2 L557.8,361.9 L555.8,363.0 L557.8,362.9 L558.5,363.2 L558.9,363.6 L559.2,364.1 L559.3,364.6 L559.4,365.2 L559.3,365.7 L559.0,366.3 L558.7,366.9 L558.2,367.5 L557.4,368.0 L555.4,368.7 L557.3,369.1 L557.9,369.6 L558.2,370.1 L558.4,370.7 L558.5,371.2 L558.4,371.8 L558.2,372.4 L557.9,372.9 L557.5,373.4 L557.0,373.9 L556.2,374.3 L554.2,374.4 L555.9,375.3 L556.4,376.0 L556.6,376.6 L556.7,377.2 L556.7,377.8 L556.5,378.4 L556.3,378.9 L555.9,379.4 L555.5,379.8 L554.9,380.1 L554.1,380.3 L552.2,379.9 L553.6,381.3 L554.0,382.1 L554.1,382.8 L554.1,383.5 L554.0,384.1 L553.7,384.6 L553.4,385.1 L553.0,385.5 L552.5,385.8 L551.9,386.0 L551.1,386.0 L549.5,385.1 L550.6,386.9 L550.8,387.8 L550.8,388.6 L550.7,389.3 L550.5,389.8 L550.2,390.3 L549.8,390.7 L549.4,391.0 L548.9,391.2 L548.3,391.2 L547.6,391.0 L546.1,389.7 L546.9,391.8 L546.9,392.8 L546.8,393.6 L546.6,394.3 L546.3,394.8 L546.0,395.2 L545.6,395.6 L545.1,395.7 L544.6,395.8 L544.1,395.7 L543.4,395.3 L542.3,393.5 L542.7,395.9 L542.6,396.9 L542.3,397.7 L542.0,398.3 L541.7,398.8 L541.3,399.2 L540.9,399.4 L540.4,399.5 L540.0,399.4 L539.4,399.1 L538.9,398.6 L538.1,396.4 L538.1,399.0 L537.8,400.0 L537.5,400.8 L537.1,401.3 L536.8,401.7 L536.3,402.0 L535.9,402.1 L535.5,402.1 L535.0,401.9 L534.6,401.4 L534.2,400.7 L533.8,398.3 L533.4,401.0 L533.0,402.0 L532.5,402.6 L532.1,403.1 L531.7,403.4 L531.3,403.6 L530.8,403.6 L530.4,403.4 L530.1,403.1 L529.7,402.6 L529.4,401.7 L529.4,399.2 L528.6,401.8 L528.1,402.7 L527.6,403.3 L527.1,403.6 L526.7,403.8 L526.3,403.9 L525.9,403.8 L525.5,403.5 L525.2,403.1 L525.0,402.4 L524.8,401.5 L525.2,398.9 L524.1,401.3 L523.5,402.1 L522.9,402.6 L522.4,402.9 L521.9,403.0 L521.5,402.9 L521.2,402.7 L520.9,402.3 L520.7,401.8 L520.6,401.1 L520.6,400.0 L521.3,397.4 L519.9,399.7 L519.2,400.3 L518.6,400.7 L518.1,400.8 L517.6,400.8 L517.3,400.6 L517.0,400.3 L516.8,399.9 L516.6,399.3 L516.6,398.5 L516.8,397.5 L517.9,395.0 L516.2,396.9 L515.5,397.4 L514.9,397.6 L514.4,397.6 L513.9,397.4 L513.6,397.2 L513.4,396.8 L513.3,396.3 L513.3,395.6 L513.4,394.8 L513.7,393.8 L515.1,391.5 L513.2,393.1 L512.4,393.4 L511.8,393.4 L511.4,393.3 L511.0,393.1 L510.8,392.7 L510.6,392.2 L510.6,391.7 L510.6,391.0 L510.9,390.2 L511.3,389.2 L513.0,387.3 L511.0,388.4 L510.2,388.5 L509.7,388.4 L509.2,388.1 L508.9,387.8 L508.8,387.3 L508.7,386.8 L508.7,386.2 L508.9,385.6 L509.2,384.8 L509.8,383.9 L511.7,382.4 L509.7,383.0 L508.9,382.9 L508.4,382.6 L508.0,382.2 L507.8,381.8 L507.7,381.3 L507.7,380.8 L507.9,380.2 L508.1,379.5 L508.5,378.8 L509.2,378.1 L511.2,377.0 L509.2,377.1 L508.5,376.8 L508.1,376.4 L507.8,375.9 L507.7,375.4 L507.6,374.8 L507.7,374.3 L508.0,373.7 L508.3,373.1 L508.8,372.5 L509.6,372.0 L511.6,371.3 L509.7,370.9 L509.1,370.4 L508.8,369.9 L508.6,369.3 L508.5,368.8 L508.6,368.2 L508.8,367.6 L509.1,367.1 L509.5,366.6 L510.0,366.1 L510.8,365.7 L512.8,365.6 L511.1,364.7 L510.6,364.0 L510.4,363.4 L510.3,362.8 L510.3,362.2 L510.5,361.6 L510.7,361.1 L511.1,360.6 L511.5,360.2 L512.1,359.9 L512.9,359.7 L514.8,360.1 L513.4,358.7 L513.0,357.9 L512.9,357.2 L512.9,356.5 L513.0,355.9 L513.3,355.4 L513.6,354.9 L514.0,354.5 L514.5,354.2 L515.1,354.0 L515.9,354.0 L517.5,354.9 L516.4,353.1 L516.2,352.2 L516.2,351.4 L516.3,350.7 L516.5,350.2 L516.8,349.7 L517.2,349.3 L517.6,349.0 L518.1,348.8 L518.7,348.8 L519.4,349.0 L520.9,350.3 L520.1,348.2 L520.1,347.2 L520.2,346.4 L520.4,345.7 L520.7,345.2 L521.0,344.8 L521.4,344.4 L521.9,344.3 L522.4,344.2 L522.9,344.3 L523.6,344.7 L524.7,346.5 L524.3,344.1 L524.4,343.1 L524.7,342.3 L525.0,341.7 L525.3,341.2 L525.7,340.8 L526.1,340.6 L526.6,340.5 L527.0,340.6 L527.6,340.9 L528.1,341.4 L528.9,343.6 L528.9,341.0 L529.2,340.0 L529.5,339.2 L529.9,338.7 L530.2,338.3 L530.7,338.0 L531.1,337.9 L531.5,337.9 L532.0,338.1 L532.4,338.6 L532.8,339.3 L533.2,341.7 L533.6,339.0 L534.0,338.0 L534.5,337.4 L534.9,336.9 L535.3,336.6 L535.7,336.4 L536.2,336.4 L536.6,336.6 L536.9,336.9 L537.3,337.4 L537.6,338.3 L537.6,340.8 L538.4,338.2 L538.9,337.3 L539.4,336.7 L539.9,336.4 L540.3,336.2 L540.7,336.1 L541.1,336.2 L541.5,336.5 L541.8,336.9 L542.0,337.6 L542.2,338.5 L541.8,341.1 L542.9,338.7 L543.5,337.9 L544.1,337.4 L544.6,337.1 L545.1,337.0Z" fill="#fff" stroke="#222" stroke-width="1.25" stroke-linejoin="round"/>
<ellipse cx="533.5" cy="370" rx="29.365" ry="20.5555" transform="rotate(-70 533.5 370)" fill="none" stroke="#444" stroke-width="0.7" />
<ellipse cx="535" cy="371" rx="27" ry="17.5" transform="rotate(-70 535 371)" fill="none" stroke="#222" stroke-width="1.25" />
<ellipse cx="547.117821180147" cy="357.9968637549906" rx="5" ry="3.4" transform="rotate(-40 547.117821180147 357.9968637549906)" fill="none" stroke="#222" stroke-width="1.12" />
<ellipse cx="547.2763114494309" cy="375.10424171990803" rx="5" ry="3.4" transform="rotate(20 547.2763114494309 375.10424171990803)" fill="none" stroke="#222" stroke-width="1.12" />
<ellipse cx="536.158490269284" cy="388.1073779649174" rx="5" ry="3.4" transform="rotate(80 536.158490269284 388.1073779649174)" fill="none" stroke="#222" stroke-width="1.12" />
<ellipse cx="524.882178819853" cy="384.0031362450094" rx="5" ry="3.4" transform="rotate(140 524.882178819853 384.0031362450094)" fill="none" stroke="#222" stroke-width="1.12" />
<ellipse cx="524.7236885505691" cy="366.89575828009197" rx="5" ry="3.4" transform="rotate(200 524.7236885505691 366.89575828009197)" fill="none" stroke="#222" stroke-width="1.12" />
<ellipse cx="535.841509730716" cy="353.8926220350826" rx="5" ry="3.4" transform="rotate(260 535.841509730716 353.8926220350826)" fill="none" stroke="#222" stroke-width="1.12" />
<ellipse cx="538.5" cy="371" rx="12" ry="8" transform="rotate(-70 538.5 371)" fill="none" stroke="#222" stroke-width="1.25" />
<ellipse cx="538.5" cy="371" rx="8" ry="5.5" transform="rotate(-70 538.5 371)" fill="#ccc" stroke="#222" stroke-width="1.12" />
<ellipse cx="541.7491913615938" cy="362.0729201025339" rx="1.2" ry="1.2" transform="rotate(0 541.7491913615938 362.0729201025339)" fill="none" stroke="#444" stroke-width="0.5" />
<ellipse cx="545.1165349036821" cy="366.25959222551944" rx="1.2" ry="1.2" transform="rotate(0 545.1165349036821 366.25959222551944)" fill="none" stroke="#444" stroke-width="0.5" />
<ellipse cx="544.6080020351084" cy="373.2231309316168" rx="1.2" ry="1.2" transform="rotate(0 544.6080020351084 373.2231309316168)" fill="none" stroke="#444" stroke-width="0.5" />
<ellipse cx="540.5214844133707" cy="378.8843896889042" rx="1.2" ry="1.2" transform="rotate(0 540.5214844133707 378.8843896889042)" fill="none" stroke="#444" stroke-width="0.5" />
<ellipse cx="535.2508086384062" cy="379.9270798974661" rx="1.2" ry="1.2" transform="rotate(0 535.2508086384062 379.9270798974661)" fill="none" stroke="#444" stroke-width="0.5" />
<ellipse cx="531.8834650963179" cy="375.74040777448056" rx="1.2" ry="1.2" transform="rotate(0 531.8834650963179 375.74040777448056)" fill="none" stroke="#444" stroke-width="0.5" />
<ellipse cx="532.3919979648916" cy="368.7768690683832" rx="1.2" ry="1.2" transform="rotate(0 532.3919979648916 368.7768690683832)" fill="none" stroke="#444" stroke-width="0.5" />
<ellipse cx="536.4785155866293" cy="363.1156103110958" rx="1.2" ry="1.2" transform="rotate(0 536.4785155866293 363.1156103110958)" fill="none" stroke="#444" stroke-width="0.5" />
<path d="M565.6,374.0 L572.2,385.2 L566.6,400.7 L554.4,405.0 L547.8,393.8 L553.4,378.3Z" fill="#fff" stroke="#222" stroke-width="1.25" stroke-linejoin="round"/>
<path d="M565.6433323648736,373.9950717570325 L569.6433323648736,372.9950717570325" fill="none" stroke="#222" stroke-width="1.00" />
<path d="M572.2210294020219,385.16862431150184 L576.2210294020219,384.16862431150184" fill="none" stroke="#222" stroke-width="1.00" />
<path d="M566.5776970371485,400.6735525544693 L570.5776970371485,399.6735525544693" fill="none" stroke="#222" stroke-width="1.00" />
<path d="M554.3566676351264,405.0049282429675 L558.3566676351264,404.0049282429675" fill="none" stroke="#222" stroke-width="1.00" />
<path d="M547.7789705979781,393.83137568849816 L551.7789705979781,392.83137568849816" fill="none" stroke="#222" stroke-width="1.00" />
<path d="M553.4223029628515,378.3264474455307 L557.4223029628515,377.3264474455307" fill="none" stroke="#222" stroke-width="1.00" />
<path d="M569.6,373.0 L576.2,384.2 L570.6,399.7 L558.4,404.0 L551.8,392.8 L557.4,377.3Z" fill="#fff" stroke="#222" stroke-width="1.25" stroke-linejoin="round"/>
<ellipse cx="564.5" cy="389.0" rx="11.879999999999999" ry="9.009" transform="rotate(-70 564.5 389.0)" fill="none" stroke="#222" stroke-width="1.38" />
<ellipse cx="565" cy="389.5" rx="8.25" ry="6.3525" transform="rotate(-70 565 389.5)" fill="none" stroke="#222" stroke-width="1.12" />
<path d="M499.8,391.6 L500.1,391.8 L500.4,392.2 L500.6,392.7 L500.7,393.5 L500.7,394.5 L499.9,397.3 L501.3,394.9 L502.0,394.2 L502.6,393.9 L503.1,393.7 L503.6,393.7 L503.9,393.9 L504.2,394.2 L504.4,394.7 L504.5,395.3 L504.5,396.1 L504.3,397.2 L503.1,399.8 L504.8,397.8 L505.6,397.3 L506.2,397.1 L506.7,397.1 L507.1,397.2 L507.4,397.5 L507.6,397.9 L507.7,398.5 L507.7,399.2 L507.5,400.0 L507.2,401.1 L505.7,403.4 L507.6,401.8 L508.4,401.5 L508.9,401.5 L509.4,401.6 L509.7,401.9 L510.0,402.3 L510.1,402.8 L510.1,403.4 L510.0,404.1 L509.7,404.9 L509.2,405.9 L507.5,407.9 L509.5,406.8 L510.2,406.7 L510.8,406.9 L511.2,407.2 L511.5,407.6 L511.6,408.0 L511.6,408.6 L511.6,409.2 L511.3,409.9 L511.0,410.7 L510.3,411.5 L508.4,413.1 L510.4,412.5 L511.2,412.7 L511.6,413.0 L512.0,413.4 L512.1,413.9 L512.2,414.5 L512.2,415.0 L512.0,415.7 L511.7,416.3 L511.2,417.0 L510.5,417.7 L508.5,418.8 L510.4,418.8 L511.1,419.2 L511.4,419.7 L511.7,420.2 L511.8,420.7 L511.8,421.3 L511.6,421.9 L511.4,422.5 L511.0,423.1 L510.4,423.6 L509.7,424.2 L507.7,424.7 L509.4,425.3 L510.0,425.9 L510.2,426.5 L510.4,427.1 L510.4,427.7 L510.3,428.3 L510.0,428.8 L509.7,429.4 L509.3,429.9 L508.7,430.3 L507.9,430.6 L506.0,430.5 L507.5,431.7 L507.9,432.5 L508.1,433.2 L508.1,433.8 L508.0,434.5 L507.8,435.0 L507.5,435.6 L507.1,436.0 L506.6,436.4 L506.0,436.7 L505.2,436.8 L503.5,436.1 L504.7,437.8 L505.0,438.7 L505.0,439.5 L504.9,440.2 L504.7,440.8 L504.5,441.3 L504.1,441.8 L503.7,442.1 L503.2,442.4 L502.6,442.5 L501.8,442.4 L500.3,441.2 L501.2,443.3 L501.3,444.3 L501.2,445.1 L501.0,445.8 L500.7,446.4 L500.4,446.9 L500.0,447.2 L499.6,447.5 L499.1,447.6 L498.5,447.5 L497.8,447.2 L496.6,445.5 L497.1,447.9 L497.0,449.0 L496.8,449.8 L496.5,450.5 L496.2,451.0 L495.8,451.4 L495.4,451.7 L494.9,451.8 L494.5,451.8 L494.0,451.5 L493.4,451.0 L492.6,448.9 L492.6,451.5 L492.4,452.6 L492.0,453.4 L491.7,454.0 L491.3,454.5 L490.9,454.8 L490.5,454.9 L490.0,454.9 L489.6,454.7 L489.1,454.3 L488.7,453.6 L488.3,451.1 L487.9,453.9 L487.5,454.9 L487.1,455.7 L486.7,456.2 L486.2,456.6 L485.8,456.7 L485.4,456.8 L485.0,456.6 L484.6,456.3 L484.3,455.8 L484.0,454.9 L484.0,452.2 L483.2,455.0 L482.7,455.9 L482.2,456.6 L481.7,457.0 L481.3,457.2 L480.9,457.3 L480.5,457.2 L480.1,457.0 L479.8,456.5 L479.6,455.8 L479.5,454.9 L479.9,452.1 L478.8,454.7 L478.1,455.6 L477.6,456.1 L477.0,456.4 L476.6,456.5 L476.2,456.4 L475.9,456.2 L475.6,455.8 L475.4,455.3 L475.3,454.5 L475.3,453.5 L476.1,450.7 L474.7,453.1 L474.0,453.8 L473.4,454.1 L472.9,454.3 L472.4,454.3 L472.1,454.1 L471.8,453.8 L471.6,453.3 L471.5,452.7 L471.5,451.9 L471.7,450.8 L472.9,448.2 L471.2,450.2 L470.4,450.7 L469.8,450.9 L469.3,450.9 L468.9,450.8 L468.6,450.5 L468.4,450.1 L468.3,449.5 L468.3,448.8 L468.5,448.0 L468.8,446.9 L470.3,444.6 L468.4,446.2 L467.6,446.5 L467.1,446.5 L466.6,446.4 L466.3,446.1 L466.0,445.7 L465.9,445.2 L465.9,444.6 L466.0,443.9 L466.3,443.1 L466.8,442.1 L468.5,440.1 L466.5,441.2 L465.8,441.3 L465.2,441.1 L464.8,440.8 L464.5,440.4 L464.4,440.0 L464.4,439.4 L464.4,438.8 L464.7,438.1 L465.0,437.3 L465.7,436.5 L467.6,434.9 L465.6,435.5 L464.8,435.3 L464.4,435.0 L464.0,434.6 L463.9,434.1 L463.8,433.5 L463.8,433.0 L464.0,432.3 L464.3,431.7 L464.8,431.0 L465.5,430.3 L467.5,429.2 L465.6,429.2 L464.9,428.8 L464.6,428.3 L464.3,427.8 L464.2,427.3 L464.2,426.7 L464.4,426.1 L464.6,425.5 L465.0,424.9 L465.6,424.4 L466.3,423.8 L468.3,423.3 L466.6,422.7 L466.0,422.1 L465.8,421.5 L465.6,420.9 L465.6,420.3 L465.7,419.7 L466.0,419.2 L466.3,418.6 L466.7,418.1 L467.3,417.7 L468.1,417.4 L470.0,417.5 L468.5,416.3 L468.1,415.5 L467.9,414.8 L467.9,414.2 L468.0,413.5 L468.2,413.0 L468.5,412.4 L468.9,412.0 L469.4,411.6 L470.0,411.3 L470.8,411.2 L472.5,411.9 L471.3,410.2 L471.0,409.3 L471.0,408.5 L471.1,407.8 L471.3,407.2 L471.5,406.7 L471.9,406.2 L472.3,405.9 L472.8,405.6 L473.4,405.5 L474.2,405.6 L475.7,406.8 L474.8,404.7 L474.7,403.7 L474.8,402.9 L475.0,402.2 L475.3,401.6 L475.6,401.1 L476.0,400.8 L476.4,400.5 L476.9,400.4 L477.5,400.5 L478.2,400.8 L479.4,402.5 L478.9,400.1 L479.0,399.0 L479.2,398.2 L479.5,397.5 L479.8,397.0 L480.2,396.6 L480.6,396.3 L481.1,396.2 L481.5,396.2 L482.0,396.5 L482.6,397.0 L483.4,399.1 L483.4,396.5 L483.6,395.4 L484.0,394.6 L484.3,394.0 L484.7,393.5 L485.1,393.2 L485.5,393.1 L486.0,393.1 L486.4,393.3 L486.9,393.7 L487.3,394.4 L487.7,396.9 L488.1,394.1 L488.5,393.1 L488.9,392.3 L489.3,391.8 L489.8,391.4 L490.2,391.3 L490.6,391.2 L491.0,391.4 L491.4,391.7 L491.7,392.2 L492.0,393.1 L492.0,395.8 L492.8,393.0 L493.3,392.1 L493.8,391.4 L494.3,391.0 L494.7,390.8 L495.1,390.7 L495.5,390.8 L495.9,391.0 L496.2,391.5 L496.4,392.2 L496.5,393.1 L496.1,395.9 L497.2,393.3 L497.9,392.4 L498.4,391.9 L499.0,391.6 L499.4,391.5Z" fill="#fff" stroke="#222" stroke-width="1.12" stroke-linejoin="round"/>
<path d="M502.3,390.6 L502.6,390.8 L502.9,391.2 L503.1,391.7 L503.2,392.5 L503.2,393.5 L502.4,396.3 L503.8,393.9 L504.5,393.2 L505.1,392.9 L505.6,392.7 L506.1,392.7 L506.4,392.9 L506.7,393.2 L506.9,393.7 L507.0,394.3 L507.0,395.1 L506.8,396.2 L505.6,398.8 L507.3,396.8 L508.1,396.3 L508.7,396.1 L509.2,396.1 L509.6,396.2 L509.9,396.5 L510.1,396.9 L510.2,397.5 L510.2,398.2 L510.0,399.0 L509.7,400.1 L508.2,402.4 L510.1,400.8 L510.9,400.5 L511.4,400.5 L511.9,400.6 L512.2,400.9 L512.5,401.3 L512.6,401.8 L512.6,402.4 L512.5,403.1 L512.2,403.9 L511.7,404.9 L510.0,406.9 L512.0,405.8 L512.7,405.7 L513.3,405.9 L513.7,406.2 L514.0,406.6 L514.1,407.0 L514.1,407.6 L514.1,408.2 L513.8,408.9 L513.5,409.7 L512.8,410.5 L510.9,412.1 L512.9,411.5 L513.7,411.7 L514.1,412.0 L514.5,412.4 L514.6,412.9 L514.7,413.5 L514.7,414.0 L514.5,414.7 L514.2,415.3 L513.7,416.0 L513.0,416.7 L511.0,417.8 L512.9,417.8 L513.6,418.2 L513.9,418.7 L514.2,419.2 L514.3,419.7 L514.3,420.3 L514.1,420.9 L513.9,421.5 L513.5,422.1 L512.9,422.6 L512.2,423.2 L510.2,423.7 L511.9,424.3 L512.5,424.9 L512.7,425.5 L512.9,426.1 L512.9,426.7 L512.8,427.3 L512.5,427.8 L512.2,428.4 L511.8,428.9 L511.2,429.3 L510.4,429.6 L508.5,429.5 L510.0,430.7 L510.4,431.5 L510.6,432.2 L510.6,432.8 L510.5,433.5 L510.3,434.0 L510.0,434.6 L509.6,435.0 L509.1,435.4 L508.5,435.7 L507.7,435.8 L506.0,435.1 L507.2,436.8 L507.5,437.7 L507.5,438.5 L507.4,439.2 L507.2,439.8 L507.0,440.3 L506.6,440.8 L506.2,441.1 L505.7,441.4 L505.1,441.5 L504.3,441.4 L502.8,440.2 L503.7,442.3 L503.8,443.3 L503.7,444.1 L503.5,444.8 L503.2,445.4 L502.9,445.9 L502.5,446.2 L502.1,446.5 L501.6,446.6 L501.0,446.5 L500.3,446.2 L499.1,444.5 L499.6,446.9 L499.5,448.0 L499.3,448.8 L499.0,449.5 L498.7,450.0 L498.3,450.4 L497.9,450.7 L497.4,450.8 L497.0,450.8 L496.5,450.5 L495.9,450.0 L495.1,447.9 L495.1,450.5 L494.9,451.6 L494.5,452.4 L494.2,453.0 L493.8,453.5 L493.4,453.8 L493.0,453.9 L492.5,453.9 L492.1,453.7 L491.6,453.3 L491.2,452.6 L490.8,450.1 L490.4,452.9 L490.0,453.9 L489.6,454.7 L489.2,455.2 L488.7,455.6 L488.3,455.7 L487.9,455.8 L487.5,455.6 L487.1,455.3 L486.8,454.8 L486.5,453.9 L486.5,451.2 L485.7,454.0 L485.2,454.9 L484.7,455.6 L484.2,456.0 L483.8,456.2 L483.4,456.3 L483.0,456.2 L482.6,456.0 L482.3,455.5 L482.1,454.8 L482.0,453.9 L482.4,451.1 L481.3,453.7 L480.6,454.6 L480.1,455.1 L479.5,455.4 L479.1,455.5 L478.7,455.4 L478.4,455.2 L478.1,454.8 L477.9,454.3 L477.8,453.5 L477.8,452.5 L478.6,449.7 L477.2,452.1 L476.5,452.8 L475.9,453.1 L475.4,453.3 L474.9,453.3 L474.6,453.1 L474.3,452.8 L474.1,452.3 L474.0,451.7 L474.0,450.9 L474.2,449.8 L475.4,447.2 L473.7,449.2 L472.9,449.7 L472.3,449.9 L471.8,449.9 L471.4,449.8 L471.1,449.5 L470.9,449.1 L470.8,448.5 L470.8,447.8 L471.0,447.0 L471.3,445.9 L472.8,443.6 L470.9,445.2 L470.1,445.5 L469.6,445.5 L469.1,445.4 L468.8,445.1 L468.5,444.7 L468.4,444.2 L468.4,443.6 L468.5,442.9 L468.8,442.1 L469.3,441.1 L471.0,439.1 L469.0,440.2 L468.3,440.3 L467.7,440.1 L467.3,439.8 L467.0,439.4 L466.9,439.0 L466.9,438.4 L466.9,437.8 L467.2,437.1 L467.5,436.3 L468.2,435.5 L470.1,433.9 L468.1,434.5 L467.3,434.3 L466.9,434.0 L466.5,433.6 L466.4,433.1 L466.3,432.5 L466.3,432.0 L466.5,431.3 L466.8,430.7 L467.3,430.0 L468.0,429.3 L470.0,428.2 L468.1,428.2 L467.4,427.8 L467.1,427.3 L466.8,426.8 L466.7,426.3 L466.7,425.7 L466.9,425.1 L467.1,424.5 L467.5,423.9 L468.1,423.4 L468.8,422.8 L470.8,422.3 L469.1,421.7 L468.5,421.1 L468.3,420.5 L468.1,419.9 L468.1,419.3 L468.2,418.7 L468.5,418.2 L468.8,417.6 L469.2,417.1 L469.8,416.7 L470.6,416.4 L472.5,416.5 L471.0,415.3 L470.6,414.5 L470.4,413.8 L470.4,413.2 L470.5,412.5 L470.7,412.0 L471.0,411.4 L471.4,411.0 L471.9,410.6 L472.5,410.3 L473.3,410.2 L475.0,410.9 L473.8,409.2 L473.5,408.3 L473.5,407.5 L473.6,406.8 L473.8,406.2 L474.0,405.7 L474.4,405.2 L474.8,404.9 L475.3,404.6 L475.9,404.5 L476.7,404.6 L478.2,405.8 L477.3,403.7 L477.2,402.7 L477.3,401.9 L477.5,401.2 L477.8,400.6 L478.1,400.1 L478.5,399.8 L478.9,399.5 L479.4,399.4 L480.0,399.5 L480.7,399.8 L481.9,401.5 L481.4,399.1 L481.5,398.0 L481.7,397.2 L482.0,396.5 L482.3,396.0 L482.7,395.6 L483.1,395.3 L483.6,395.2 L484.0,395.2 L484.5,395.5 L485.1,396.0 L485.9,398.1 L485.9,395.5 L486.1,394.4 L486.5,393.6 L486.8,393.0 L487.2,392.5 L487.6,392.2 L488.0,392.1 L488.5,392.1 L488.9,392.3 L489.4,392.7 L489.8,393.4 L490.2,395.9 L490.6,393.1 L491.0,392.1 L491.4,391.3 L491.8,390.8 L492.3,390.4 L492.7,390.3 L493.1,390.2 L493.5,390.4 L493.9,390.7 L494.2,391.2 L494.5,392.1 L494.5,394.8 L495.3,392.0 L495.8,391.1 L496.3,390.4 L496.8,390.0 L497.2,389.8 L497.6,389.7 L498.0,389.8 L498.4,390.0 L498.7,390.5 L498.9,391.2 L499.0,392.1 L498.6,394.9 L499.7,392.3 L500.4,391.4 L500.9,390.9 L501.5,390.6 L501.9,390.5Z" fill="#fff" stroke="#222" stroke-width="1.25" stroke-linejoin="round"/>
<ellipse cx="490.5" cy="423" rx="28.548750000000002" ry="18.61875" transform="rotate(-70 490.5 423)" fill="none" stroke="#444" stroke-width="0.7" />
<ellipse cx="499" cy="421.5" rx="31.5" ry="18.8" transform="rotate(-70 499 421.5)" fill="#fff" stroke="#222" stroke-width="1.25" />
<ellipse cx="493" cy="423.5" rx="28.5" ry="16.5" transform="rotate(-70 493 423.5)" fill="none" stroke="#222" stroke-width="1.12" />
<ellipse cx="501.3404028665134" cy="405.20614758428184" rx="5" ry="3" transform="rotate(-70 501.3404028665134 405.20614758428184)" fill="none" stroke="#222" stroke-width="1.00" />
<ellipse cx="507.2788747687745" cy="418.0093523184902" rx="5" ry="3" transform="rotate(-10 507.2788747687745 418.0093523184902)" fill="none" stroke="#222" stroke-width="1.00" />
<ellipse cx="487.6595971334866" cy="442.79385241571816" rx="5" ry="3" transform="rotate(110 487.6595971334866 442.79385241571816)" fill="none" stroke="#222" stroke-width="1.00" />
<ellipse cx="481.7211252312255" cy="429.9906476815098" rx="5" ry="3" transform="rotate(170 481.7211252312255 429.9906476815098)" fill="none" stroke="#222" stroke-width="1.00" />
<ellipse cx="488.5615280977389" cy="411.1967952657916" rx="5" ry="3" transform="rotate(230 488.5615280977389 411.1967952657916)" fill="none" stroke="#222" stroke-width="1.00" />
<ellipse cx="496" cy="425.5" rx="10.5" ry="7" transform="rotate(-65 496 425.5)" fill="none" stroke="#222" stroke-width="1.50" />
<ellipse cx="496" cy="425.5" rx="8" ry="5" transform="rotate(-65 496 425.5)" fill="none" stroke="#222" stroke-width="1.00" />
<path d="M491.0458428030761,424.2932164783332 L500.9541571969239,426.7067835216668" fill="none" stroke="#222" stroke-width="1.12" />
<ellipse cx="512" cy="417.5" rx="1.6" ry="1.6" transform="rotate(0 512 417.5)" fill="none" stroke="#222" stroke-width="1.00" />
<ellipse cx="500" cy="440.5" rx="1.6" ry="1.6" transform="rotate(0 500 440.5)" fill="none" stroke="#222" stroke-width="1.00" />
<path d="M523.4,429.3 L528.6,438.1 L524.2,450.3 L514.6,453.7 L509.4,444.9 L513.8,432.7Z" fill="#fff" stroke="#222" stroke-width="1.25" stroke-linejoin="round"/>
<path d="M523.4462618632336,429.2839959297832 L527.4462618632336,428.2839959297832" fill="none" stroke="#222" stroke-width="1.00" />
<path d="M528.6286898318962,438.0874009726984 L532.6286898318962,437.0874009726984" fill="none" stroke="#222" stroke-width="1.00" />
<path d="M524.1824279686624,450.30340504291524 L528.1824279686624,449.30340504291524" fill="none" stroke="#222" stroke-width="1.00" />
<path d="M514.5537381367664,453.7160040702168 L518.5537381367664,452.7160040702168" fill="none" stroke="#222" stroke-width="1.00" />
<path d="M509.37131016810383,444.9125990273016 L513.3713101681038,443.9125990273016" fill="none" stroke="#222" stroke-width="1.00" />
<path d="M513.8175720313376,432.69659495708476 L517.8175720313376,431.69659495708476" fill="none" stroke="#222" stroke-width="1.00" />
<path d="M527.4,428.3 L532.6,437.1 L528.2,449.3 L518.6,452.7 L513.4,443.9 L517.8,431.7Z" fill="#fff" stroke="#222" stroke-width="1.25" stroke-linejoin="round"/>
<ellipse cx="523.5" cy="441.0" rx="9.36" ry="7.098" transform="rotate(-70 523.5 441.0)" fill="none" stroke="#222" stroke-width="1.38" />
<ellipse cx="524" cy="441.5" rx="6.5" ry="5.005" transform="rotate(-70 524 441.5)" fill="none" stroke="#222" stroke-width="1.12" />
<path d="M623,388 C628,382 632,376 631,369 C630,362 622,359 614,362 C606,367 600,376 590,379 C584,382 581,386 579,392 C576,400 575,408 570,415 C562,426 548,436 540,446 C535,451 532,455 531,462 C529,470 530,478 530,486 C530,492 531,498 534,503 C540,510 550,508 556,502 C559,499 561,498 563,497" fill="none" stroke="#222" stroke-width="1.81" stroke-linejoin="round"/>
<path d="M620,389 C625,383 628,377 627,371 M611,366 C604,372 598,379 590,383 C586,385 583,389 582,394 C580,401 579,408 574,415 C566,426 552,437 543,447" fill="none" stroke="#444" stroke-width="0.8"/>
<ellipse cx="620.5" cy="368.5" rx="10" ry="6" transform="rotate(-25 620.5 368.5)" fill="#fff" stroke="#222" stroke-width="1.25" />
<ellipse cx="581" cy="392" rx="5.5" ry="5" transform="rotate(0 581 392)" fill="#fff" stroke="#222" stroke-width="1.25" />
<ellipse cx="533" cy="458" rx="5" ry="5.5" transform="rotate(0 533 458)" fill="#fff" stroke="#222" stroke-width="1.25" />
<ellipse cx="540.5" cy="504" rx="9.5" ry="6" transform="rotate(-15 540.5 504)" fill="#fff" stroke="#222" stroke-width="1.25" />
<ellipse cx="616.5" cy="370" rx="2.4" ry="2.9" transform="rotate(-20 616.5 370)" fill="#fff" stroke="#222" stroke-width="1.12" />
<ellipse cx="624.5" cy="367" rx="2.4" ry="2.9" transform="rotate(-20 624.5 367)" fill="#fff" stroke="#222" stroke-width="1.12" />
<ellipse cx="581" cy="392" rx="2.4" ry="2.9" transform="rotate(-20 581 392)" fill="#fff" stroke="#222" stroke-width="1.12" />
<ellipse cx="533" cy="458" rx="2.4" ry="2.9" transform="rotate(-20 533 458)" fill="#fff" stroke="#222" stroke-width="1.12" />
<ellipse cx="536.5" cy="505" rx="2.4" ry="2.9" transform="rotate(-20 536.5 505)" fill="#fff" stroke="#222" stroke-width="1.12" />
<ellipse cx="544.5" cy="503" rx="2.4" ry="2.9" transform="rotate(-20 544.5 503)" fill="#fff" stroke="#222" stroke-width="1.12" />
<path d="M642,381 C646,377 655,374 662,376 C668,374 673,375 677,378 C682,383 686,392 685,399 C684,403 679,406 672,407 C670,413 671,420 670,432 C669,442 664,450 660,456 C657,464 655,470 654,476 C650,484 638,483 632,485 C627,491 623,497 621,502 C618,510 608,513 598,518 C590,523 585,531 576,531 C568,531 560,527 556,518 C553,510 555,502 557,494 C559,487 560,480 561,474 C563,468 567,465 572,461 C580,455 585,450 588,446 C594,441 599,434 602,426 C605,418 608,410 612,405 C620,398 632,391 642,381 Z" fill="#fff" stroke="#222" stroke-width="1.62"/>
<path d="M652,396 C662,400 668,406 670,414 C671,428 668,442 660,454 C652,464 644,470 636,474" fill="none" stroke="#333" stroke-width="1.12"/>
<path d="M648,401 C657,405 663,409 665,416 C665,430 662,442 655,452 C648,460 641,465 634,469" fill="none" stroke="#777" stroke-width="0.7"/>
<path d="M566,482 C562,494 561,506 565,518 C570,524 576,526 582,524" fill="none" stroke="#555" stroke-width="0.7"/>
<path d="M597,470 C604,464 612,466 614,476 C615,486 611,494 602,500 M574,478 C580,470 590,466 597,470" fill="none" stroke="#555" stroke-width="0.8"/>
<path d="M605,455 C615,440 628,436 636,448 M612,455 C620,446 628,444 632,452" fill="none" stroke="#999" stroke-width="0.6"/>
<path d="M600,486 L626,466 M606,492 L630,472 M624,484 L646,466" fill="none" stroke="#888" stroke-width="0.6"/>
<path d="M606,506 L622,480 M612,510 L630,484" fill="none" stroke="#999" stroke-width="0.6"/>
<ellipse cx="667.5" cy="389" rx="2.2" ry="3" transform="rotate(-30 667.5 389)" fill="none" stroke="#222" stroke-width="1.12" />
<ellipse cx="672.5" cy="393" rx="2.2" ry="3" transform="rotate(-30 672.5 393)" fill="none" stroke="#222" stroke-width="1.12" />
<path d="M662,379 C672,379 680,386 683,396" fill="none" stroke="#555" stroke-width="0.7"/>
<g transform="translate(590.5 452) rotate(-59.1391083116505)">
<path d="M0,-6.2 L47.8,-6.2 A3.4100000000000006,6.2 0 0 1 47.8,6.2 L0,6.2 A3.4100000000000006,6.2 0 0 1 0,-6.2 Z" fill="#fff" stroke="#222" stroke-width="1.38"/>
</g>
<g transform="translate(615 411) rotate(-30.52970589993411)">
<path d="M0,-6.8 L45.3,-6.8 A3.74,6.8 0 0 1 45.3,6.8 L0,6.8 A3.74,6.8 0 0 1 0,-6.8 Z" fill="#fff" stroke="#222" stroke-width="1.38"/>
<ellipse cx="45.3" cy="0" rx="3.74" ry="6.8" fill="#fff" stroke="#222" stroke-width="1.38"/>
</g>
<ellipse cx="615" cy="411" rx="4" ry="6.5" transform="rotate(-30 615 411)" fill="#fff" stroke="#222" stroke-width="1.38" />
<path d="M584.5,452 L584.5,474 C586,478 594,478 596.5,474 L596.5,452 Z" fill="#fff" stroke="#222" stroke-width="1.25"/>
<ellipse cx="590.5" cy="452" rx="6" ry="4.5" transform="rotate(-15 590.5 452)" fill="#fff" stroke="#222" stroke-width="1.50" />
<ellipse cx="590.5" cy="452" rx="3.3" ry="2.3" transform="rotate(-15 590.5 452)" fill="none" stroke="#222" stroke-width="1.25" />
<g transform="translate(584 462) rotate(142.59464336859145)">
<path d="M0,-6.5 L21.4,-6.5 A3.575,6.5 0 0 1 21.4,6.5 L0,6.5 A3.575,6.5 0 0 1 0,-6.5 Z" fill="#fff" stroke="#222" stroke-width="1.38"/>
<ellipse cx="21.4" cy="0" rx="3.575" ry="6.5" fill="#fff" stroke="#222" stroke-width="1.38"/>
</g>
<ellipse cx="640.5" cy="435.5" rx="18.5" ry="12.5" transform="rotate(-70 640.5 435.5)" fill="#fff" stroke="#222" stroke-width="1.62" />
<ellipse cx="641.2" cy="436.2" rx="15" ry="9.5" transform="rotate(-70 641.2 436.2)" fill="none" stroke="#222" stroke-width="1.50" />
<ellipse cx="642" cy="437" rx="12.5" ry="7.5" transform="rotate(-70 642 437)" fill="none" stroke="#666" stroke-width="0.7" />
<ellipse cx="579.6" cy="500.3" rx="10.5" ry="7.5" transform="rotate(-65 579.6 500.3)" fill="#fff" stroke="#222" stroke-width="1.50" />
<ellipse cx="580.2" cy="501" rx="7" ry="4.8" transform="rotate(-65 580.2 501)" fill="none" stroke="#222" stroke-width="1.25" />
<ellipse cx="580.3" cy="527.6" rx="5" ry="5.5" transform="rotate(-20 580.3 527.6)" fill="#fff" stroke="#222" stroke-width="1.38" />
<ellipse cx="617.7" cy="505" rx="5" ry="5.5" transform="rotate(-20 617.7 505)" fill="#fff" stroke="#222" stroke-width="1.38" />
<ellipse cx="660" cy="455" rx="4.5" ry="5.5" transform="rotate(-20 660 455)" fill="#fff" stroke="#222" stroke-width="1.38" />
<path d="M624,477 L653,472 L654,479 L634,486 Z" fill="#b0b0b0" stroke="#222" stroke-width="1.12"/>
<ellipse cx="639.3" cy="475" rx="2.2" ry="2.2" transform="rotate(0 639.3 475)" fill="#fff" stroke="#222" stroke-width="1.00" />
<g transform="translate(600 505) rotate(-32)">
<rect x="-10" y="-2.4" width="20" height="4.8" fill="#333"/>
<rect x="-8" y="-1" width="16" height="2" fill="#777"/>
</g>
<g transform="translate(624 413.7) rotate(35.78452261016609)">
<path d="M0,-3 L18.3,-3 L18.3,3 L0,3 A1.5,3 0 0 1 0,-3 Z" fill="#fff" stroke="#222" stroke-width="1.25"/>
<rect x="1.8" y="-2.1" width="13.7" height="4.2" fill="#c4c4c4"/>
<path d="M18.3,-5.5 L24.3,-5.5 A2.75,5.5 0 0 1 24.3,5.5 L18.3,5.5 A2.75,5.5 0 0 1 18.3,-5.5 Z" fill="#fff" stroke="#222" stroke-width="1.25"/>
<ellipse cx="24.3" cy="0" rx="2.75" ry="5.5" fill="#fff" stroke="#222" stroke-width="1.25"/>
<ellipse cx="24.3" cy="0" rx="1.2375" ry="2.475" fill="#fff" stroke="#222" stroke-width="1.00"/>
</g>
<g transform="translate(660 392) rotate(32.9052429229879)">
<path d="M0,-3 L14.2,-3 L14.2,3 L0,3 A1.5,3 0 0 1 0,-3 Z" fill="#fff" stroke="#222" stroke-width="1.25"/>
<rect x="1.4" y="-2.1" width="10.7" height="4.2" fill="#c4c4c4"/>
<path d="M14.2,-5.3 L20.2,-5.3 A2.65,5.3 0 0 1 20.2,5.3 L14.2,5.3 A2.65,5.3 0 0 1 14.2,-5.3 Z" fill="#fff" stroke="#222" stroke-width="1.25"/>
<ellipse cx="20.2" cy="0" rx="2.65" ry="5.3" fill="#fff" stroke="#222" stroke-width="1.25"/>
<ellipse cx="20.2" cy="0" rx="1.1925" ry="2.385" fill="#fff" stroke="#222" stroke-width="1.00"/>
</g>
<g transform="translate(576.4 479.3) rotate(35.176919208215054)">
<path d="M0,-3.2 L13.3,-3.2 L13.3,3.2 L0,3.2 A1.6,3.2 0 0 1 0,-3.2 Z" fill="#fff" stroke="#222" stroke-width="1.25"/>
<rect x="1.3" y="-2.3000000000000003" width="10.0" height="4.6000000000000005" fill="#c4c4c4"/>
<path d="M13.3,-5.8 L20.3,-5.8 A2.9,5.8 0 0 1 20.3,5.8 L13.3,5.8 A2.9,5.8 0 0 1 13.3,-5.8 Z" fill="#fff" stroke="#222" stroke-width="1.25"/>
<ellipse cx="20.3" cy="0" rx="2.9" ry="5.8" fill="#fff" stroke="#222" stroke-width="1.25"/>
<ellipse cx="20.3" cy="0" rx="1.305" ry="2.61" fill="#fff" stroke="#222" stroke-width="1.00"/>
</g>
<g transform="translate(663 454.6) rotate(29.683140179123253)">
<path d="M0,-3.3 L15.0,-3.3 L15.0,3.3 L0,3.3 A1.65,3.3 0 0 1 0,-3.3 Z" fill="#fff" stroke="#222" stroke-width="1.25"/>
<rect x="1.5" y="-2.4" width="11.3" height="4.8" fill="#c4c4c4"/>
<path d="M15.0,-5.5 L23.0,-5.5 A2.75,5.5 0 0 1 23.0,5.5 L15.0,5.5 A2.75,5.5 0 0 1 15.0,-5.5 Z" fill="#fff" stroke="#222" stroke-width="1.25"/>
<ellipse cx="23.0" cy="0" rx="2.75" ry="5.5" fill="#fff" stroke="#222" stroke-width="1.25"/>
<ellipse cx="23.0" cy="0" rx="1.2375" ry="2.475" fill="#fff" stroke="#222" stroke-width="1.00"/>
</g>
<ellipse cx="588.5" cy="427" rx="5.5" ry="3.5" transform="rotate(0 588.5 427)" fill="#fff" stroke="#222" stroke-width="1.75" />
<ellipse cx="588.5" cy="427" rx="2.8" ry="1.7" transform="rotate(0 588.5 427)" fill="none" stroke="#222" stroke-width="1.12" />
<path d="M585.5,412 L585.5,421 L591.5,421 L591.5,412 Z" fill="#c4c4c4" stroke="#222" stroke-width="1.12"/>
<g transform="translate(589 412) rotate(-90.0)">
<path d="M0,-5 L7.5,-5 A2.25,5 0 0 1 7.5,5 L0,5 A2.25,5 0 0 1 0,-5 Z" fill="#fff" stroke="#222" stroke-width="1.38"/>
<ellipse cx="7.5" cy="0" rx="2.25" ry="5" fill="#fff" stroke="#222" stroke-width="1.38"/>
<ellipse cx="7.5" cy="0" rx="0.9900000000000001" ry="2.2" fill="none" stroke="#222" stroke-width="1.00"/>
</g>
<g transform="translate(622 506) rotate(33.690067525979785)">
<path d="M0,-3.2 L13.6,-3.2 L13.6,3.2 L0,3.2 A1.6,3.2 0 0 1 0,-3.2 Z" fill="#fff" stroke="#222" stroke-width="1.25"/>
<rect x="1.4" y="-2.3000000000000003" width="10.2" height="4.6000000000000005" fill="#c4c4c4"/>
<path d="M13.6,-5.5 L21.6,-5.5 A2.75,5.5 0 0 1 21.6,5.5 L13.6,5.5 A2.75,5.5 0 0 1 13.6,-5.5 Z" fill="#fff" stroke="#222" stroke-width="1.25"/>
<ellipse cx="21.6" cy="0" rx="2.75" ry="5.5" fill="#fff" stroke="#222" stroke-width="1.25"/>
<ellipse cx="21.6" cy="0" rx="1.2375" ry="2.475" fill="#fff" stroke="#222" stroke-width="1.00"/>
</g>
<ellipse cx="620.5" cy="524" rx="7.8" ry="10" transform="rotate(25 620.5 524)" fill="#fff" stroke="#222" stroke-width="1.75" />
<ellipse cx="621" cy="524.5" rx="5.2" ry="7.5" transform="rotate(25 621 524.5)" fill="none" stroke="#222" stroke-width="1.38" />
<g transform="translate(631 529) rotate(39.28940686250036)">
<path d="M0,-9.5 L14.2,-9.5 A4.75,9.5 0 0 1 14.2,9.5 L0,9.5 A4.75,9.5 0 0 1 0,-9.5 Z" fill="#fff" stroke="#222" stroke-width="1.38"/>
</g>
<path d="M648.2,529.8 L652.1,538.6 L646.4,546.8 L636.8,546.2 L632.9,537.4 L638.6,529.2Z" fill="#fff" stroke="#222" stroke-width="1.38" stroke-linejoin="round"/>
<path d="M648.2,529.8 L652.1,538.6 L646.4,546.8 L636.8,546.2 L632.9,537.4 L638.6,529.2Z" fill="#fff" stroke="#222" stroke-width="1.38" stroke-linejoin="round"/>
<ellipse cx="643.0" cy="538.5" rx="7.199999999999999" ry="7.41" transform="rotate(-55 643.0 538.5)" fill="none" stroke="#222" stroke-width="1.38" />
<ellipse cx="643.5" cy="539" rx="5.0" ry="5.2250000000000005" transform="rotate(-55 643.5 539)" fill="none" stroke="#222" stroke-width="1.12" />
<ellipse cx="592" cy="531" rx="5.2" ry="6" transform="rotate(25 592 531)" fill="#fff" stroke="#222" stroke-width="1.88" />
<ellipse cx="592.3" cy="531.3" rx="2.8" ry="3.4" transform="rotate(25 592.3 531.3)" fill="#666" stroke="#222" stroke-width="1.12" />
<g transform="translate(595 533) rotate(35.83765295427829)">
<path d="M0,-3.2 L14.2,-3.2 L14.2,3.2 L0,3.2 A1.6,3.2 0 0 1 0,-3.2 Z" fill="#fff" stroke="#222" stroke-width="1.25"/>
<rect x="1.4" y="-2.3000000000000003" width="10.7" height="4.6000000000000005" fill="#c4c4c4"/>
<path d="M14.2,-5.5 L22.2,-5.5 A2.75,5.5 0 0 1 22.2,5.5 L14.2,5.5 A2.75,5.5 0 0 1 14.2,-5.5 Z" fill="#fff" stroke="#222" stroke-width="1.25"/>
<ellipse cx="22.2" cy="0" rx="2.75" ry="5.5" fill="#fff" stroke="#222" stroke-width="1.25"/>
<ellipse cx="22.2" cy="0" rx="1.2375" ry="2.475" fill="#fff" stroke="#222" stroke-width="1.00"/>
</g>
<text x="7.8" y="200" font-size="11" fill="#222">124</text>
<text x="7.8" y="222" font-size="11" fill="#222">123</text>
<text x="33.2" y="263.6" font-size="11" fill="#222">120</text>
<text x="57.8" y="278" font-size="11" fill="#222">125</text>
<text x="96.4" y="299.6" font-size="11" fill="#222">128</text>
<text x="127.8" y="317.6" font-size="11" fill="#222">129</text>
<text x="201.2" y="361.6" font-size="11" fill="#222">130</text>
<text x="163.8" y="174" font-size="11" fill="#222">127</text>
<text x="280.8" y="220" font-size="11" fill="#222">131</text>
<text x="387.4" y="471" font-size="11" fill="#222">132</text>
<text x="434.5" y="500" font-size="11" fill="#222">133</text>
<text x="457.4" y="511.4" font-size="11" fill="#222">135</text>
<text x="570.8" y="308.4" font-size="11" fill="#222">134</text>
<text x="602.8" y="328" font-size="11" fill="#222">136</text>
<text x="645.2" y="350" font-size="11" fill="#222">139</text>
<text x="487.8" y="530" font-size="11" fill="#222">137</text>
<text x="519.8" y="549" font-size="11" fill="#222">140</text>
<text x="553.8" y="568" font-size="11" fill="#222">141</text>
<text x="482.8" y="568" font-size="11" fill="#222">131A</text>
<text x="639.8" y="565" font-size="11" fill="#222">144</text>
<text x="634.8" y="581" font-size="11" fill="#222">143</text>
<text x="81" y="118.4" font-size="8.3" fill="#c8283a">TCEI M6x65</text>
<text x="153" y="153" font-size="8.3" fill="#c8283a">TSPEI M8x20</text>
<text x="5" y="247.6" font-size="8.3" fill="#c8283a">TCEO M6x16</text>
<text x="599" y="346.4" font-size="8.3" fill="#c8283a">TCEI M6X10</text>
<text x="572" y="578.6" font-size="8.3" fill="#c8283a">TCEI M6x16</text>
<text x="260.3" y="556.9" font-size="9.5" fill="#222">KIT COPERCHIO SUPPORTO ACCENSIONE</text>
<text x="260.3" y="568.6" font-size="9.5" fill="#222">KIT IGNITION SUPPORT COVER</text>
<text x="260.3" y="580.6" font-size="9.5" fill="#222">KIT COUVERCLE SUPPORT ALLUMAGE</text>
<path d="M26,191 L42,163" fill="none" stroke="#333" stroke-width="1.56" />
<path d="M26,213 L54,168" fill="none" stroke="#333" stroke-width="1.56" />
<path d="M26,238 L43,210" fill="none" stroke="#333" stroke-width="1.56" />
<path d="M51,254 L70,226" fill="none" stroke="#333" stroke-width="1.56" />
<path d="M76,269 L94,239" fill="none" stroke="#333" stroke-width="1.56" />
<path d="M114,290 L139,249" fill="none" stroke="#333" stroke-width="1.56" />
<path d="M146,307 L174,263" fill="none" stroke="#333" stroke-width="1.56" />
<path d="M220,351 L257,290" fill="none" stroke="#333" stroke-width="1.56" />
<path d="M97,122 L75,149" fill="none" stroke="#333" stroke-width="1.56" />
<path d="M161,157 L128,202" fill="none" stroke="#333" stroke-width="1.56" />
<path d="M168,175 L140,211" fill="none" stroke="#333" stroke-width="1.56" />
<path d="M243,245 L284,222 L305,286" fill="none" stroke="#333" stroke-width="1.56" />
<path d="M405.7,460 L435.7,415.7" fill="none" stroke="#333" stroke-width="1.56" />
<path d="M453,488 L479,454" fill="none" stroke="#333" stroke-width="1.56" />
<path d="M476,500 L512,450" fill="none" stroke="#333" stroke-width="1.56" />
<path d="M571,310 L549,339" fill="none" stroke="#333" stroke-width="1.56" />
<path d="M602,330 L574,372" fill="none" stroke="#333" stroke-width="1.56" />
<path d="M609,350 L592,404" fill="none" stroke="#333" stroke-width="1.56" />
<path d="M645,352 L605,415" fill="none" stroke="#333" stroke-width="1.56" />
<path d="M508,525 L532,492" fill="none" stroke="#333" stroke-width="1.56" />
<path d="M540,543 L562,515" fill="none" stroke="#333" stroke-width="1.56" />
<path d="M572,562 L590,535" fill="none" stroke="#333" stroke-width="1.56" />
<path d="M595,568 L608,547" fill="none" stroke="#333" stroke-width="1.56" />
<path d="M635,573 L617,530" fill="none" stroke="#333" stroke-width="1.56" />
<path d="M643,557 L637,546" fill="none" stroke="#333" stroke-width="1.56" />
<path d="M481,525 L481,535 L516,556 L513,564 L527,565 L602,591 L663,582" fill="none" stroke="#333" stroke-width="1.62" />
<path d="M458,548 L465,548 L465,583 L458,583" fill="none" stroke="#333" stroke-width="1.62" />
<path d="M465,565 L476,565" fill="none" stroke="#222" stroke-width="1.25" />
<path d="M480,565 L473,562.5 L473,567.5 Z" fill="#222" stroke="#222" stroke-width="0.00" />
</svg></body></html>
